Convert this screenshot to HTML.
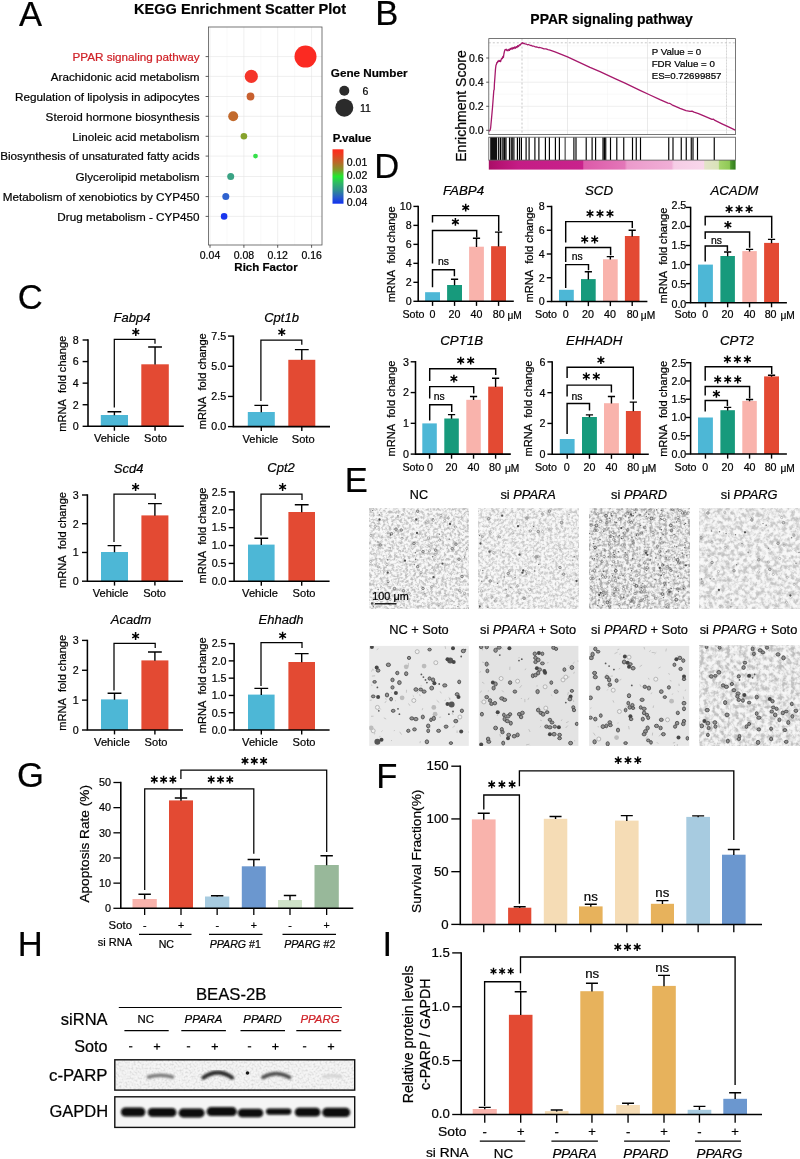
<!DOCTYPE html><html><head><meta charset="utf-8"><title>Figure</title>
<style>html,body{margin:0;padding:0;background:#fff}svg{display:block}text{font-family:"Liberation Sans", sans-serif;stroke-width:.22px}</style></head><body>
<svg width="800" height="1159" viewBox="0 0 800 1159">
<rect width="800" height="1159" fill="#fff"/>
<defs>
<linearGradient id="pv" x1="0" y1="0" x2="0" y2="1"><stop offset="0" stop-color="#ff2a1c"/><stop offset="0.08" stop-color="#f03a20"/><stop offset="0.25" stop-color="#b86a28"/><stop offset="0.38" stop-color="#7f9a2a"/><stop offset="0.5" stop-color="#22e830"/><stop offset="0.62" stop-color="#2fb865"/><stop offset="0.75" stop-color="#2f8f8f"/><stop offset="0.88" stop-color="#2a5cc8"/><stop offset="1" stop-color="#1030f0"/></linearGradient>
<linearGradient id="gsea" x1="0" y1="0" x2="1" y2="0"><stop offset="0" stop-color="#a80f66"/><stop offset="0.04" stop-color="#b51272"/><stop offset="0.12" stop-color="#c41c85"/><stop offset="0.38" stop-color="#c9228c"/><stop offset="0.385" stop-color="#dc5aa9"/><stop offset="0.55" stop-color="#e376b8"/><stop offset="0.56" stop-color="#eb9acb"/><stop offset="0.74" stop-color="#f0aed6"/><stop offset="0.75" stop-color="#f6cde6"/><stop offset="0.87" stop-color="#f8d6ea"/><stop offset="0.875" stop-color="#e3e3c8"/><stop offset="0.93" stop-color="#d9e3b8"/><stop offset="0.935" stop-color="#a4d46a"/><stop offset="0.975" stop-color="#8fc955"/><stop offset="0.98" stop-color="#4d9a2c"/><stop offset="1" stop-color="#2f7a1c"/></linearGradient>
<filter id="t1" x="0" y="0" width="100%" height="100%" color-interpolation-filters="sRGB"><feTurbulence type="fractalNoise" baseFrequency="0.36" numOctaves="3" seed="5" result="n"/><feColorMatrix in="n" type="matrix" values="1 0 0 0 0  1 0 0 0 0  1 0 0 0 0  0 0 0 0 1" result="g"/><feComponentTransfer in="g"><feFuncR type="table" tableValues=".74 .74 .74 .77 .83 .91 .965 .98 .98 .98 .98"/><feFuncG type="table" tableValues=".74 .74 .74 .77 .83 .91 .965 .98 .98 .98 .98"/><feFuncB type="table" tableValues=".74 .74 .74 .77 .83 .91 .965 .98 .98 .98 .98"/></feComponentTransfer></filter>
<filter id="t2" x="0" y="0" width="100%" height="100%" color-interpolation-filters="sRGB"><feTurbulence type="fractalNoise" baseFrequency="0.36" numOctaves="3" seed="8" result="n"/><feColorMatrix in="n" type="matrix" values="1 0 0 0 0  1 0 0 0 0  1 0 0 0 0  0 0 0 0 1" result="g"/><feComponentTransfer in="g"><feFuncR type="table" tableValues=".78 .78 .78 .80 .85 .92 .965 .98 .98 .98 .98"/><feFuncG type="table" tableValues=".78 .78 .78 .80 .85 .92 .965 .98 .98 .98 .98"/><feFuncB type="table" tableValues=".78 .78 .78 .80 .85 .92 .965 .98 .98 .98 .98"/></feComponentTransfer></filter>
<filter id="t3" x="0" y="0" width="100%" height="100%" color-interpolation-filters="sRGB"><feTurbulence type="fractalNoise" baseFrequency="0.34" numOctaves="3" seed="13" result="n"/><feColorMatrix in="n" type="matrix" values="1 0 0 0 0  1 0 0 0 0  1 0 0 0 0  0 0 0 0 1" result="g"/><feComponentTransfer in="g"><feFuncR type="table" tableValues=".64 .64 .65 .69 .78 .88 .95 .97 .97 .97 .97"/><feFuncG type="table" tableValues=".64 .64 .65 .69 .78 .88 .95 .97 .97 .97 .97"/><feFuncB type="table" tableValues=".64 .64 .65 .69 .78 .88 .95 .97 .97 .97 .97"/></feComponentTransfer></filter>
<filter id="t4" x="0" y="0" width="100%" height="100%" color-interpolation-filters="sRGB"><feTurbulence type="fractalNoise" baseFrequency="0.23" numOctaves="3" seed="21" result="n"/><feColorMatrix in="n" type="matrix" values="1 0 0 0 0  1 0 0 0 0  1 0 0 0 0  0 0 0 0 1" result="g"/><feComponentTransfer in="g"><feFuncR type="table" tableValues=".76 .76 .76 .79 .84 .91 .96 .975 .975 .975 .975"/><feFuncG type="table" tableValues=".76 .76 .76 .79 .84 .91 .96 .975 .975 .975 .975"/><feFuncB type="table" tableValues=".76 .76 .76 .79 .84 .91 .96 .975 .975 .975 .975"/></feComponentTransfer></filter>
<filter id="t5" x="0" y="0" width="100%" height="100%" color-interpolation-filters="sRGB"><feTurbulence type="fractalNoise" baseFrequency="0.23" numOctaves="3" seed="33" result="n"/><feColorMatrix in="n" type="matrix" values="1 0 0 0 0  1 0 0 0 0  1 0 0 0 0  0 0 0 0 1" result="g"/><feComponentTransfer in="g"><feFuncR type="table" tableValues=".74 .74 .74 .77 .83 .90 .95 .965 .965 .965 .965"/><feFuncG type="table" tableValues=".74 .74 .74 .77 .83 .90 .95 .965 .965 .965 .965"/><feFuncB type="table" tableValues=".74 .74 .74 .77 .83 .90 .95 .965 .965 .965 .965"/></feComponentTransfer></filter>
<filter id="tb" x="0" y="0" width="100%" height="100%" color-interpolation-filters="sRGB"><feTurbulence type="fractalNoise" baseFrequency="0.05" numOctaves="1" seed="5" result="n"/><feColorMatrix in="n" type="matrix" values="0.06 0 0 0 0.97  0.06 0 0 0 0.97  0.06 0 0 0 0.97  0 0 0 0 1"/></filter>
<filter id="b1" x="-20%" y="-50%" width="140%" height="200%"><feGaussianBlur stdDeviation="1.1"/></filter>
<filter id="b2" x="-20%" y="-50%" width="140%" height="200%"><feGaussianBlur stdDeviation="0.9"/></filter>
<filter id="b4" x="-10%" y="-100%" width="120%" height="300%"><feGaussianBlur stdDeviation="1.6"/></filter>
<filter id="tn" x="0" y="0" width="100%" height="100%" color-interpolation-filters="sRGB"><feTurbulence type="fractalNoise" baseFrequency="0.5" numOctaves="2" seed="7" result="n"/><feColorMatrix in="n" type="matrix" values="0.5 0 0 0 0.7  0.5 0 0 0 0.7  0.5 0 0 0 0.7  0 0 0 0 1"/></filter>
<filter id="b3" x="-50%" y="-50%" width="200%" height="200%"><feGaussianBlur stdDeviation="0.45"/></filter>
</defs>
<g opacity="0.999">
<text x="18.90" y="25.50" font-size="34.6" stroke="#000">A</text>
<text x="375.30" y="25.00" font-size="34.6" stroke="#000">B</text>
<text x="17.70" y="309.20" font-size="34.6" stroke="#000">C</text>
<text x="374.20" y="178.00" font-size="34.6" stroke="#000">D</text>
<text x="344.70" y="491.60" font-size="34.6" stroke="#000">E</text>
<text x="376.20" y="787.75" font-size="34.6" stroke="#000">F</text>
<text x="17.00" y="787.30" font-size="34.6" stroke="#000">G</text>
<text x="17.70" y="955.80" font-size="34.6" stroke="#000">H</text>
<text x="382.40" y="955.90" font-size="34.6" stroke="#000">I</text>
<g id="panelA">
<text x="134.00" y="14.30" font-size="15.0" font-weight="bold" stroke="#000" textLength="212.00" lengthAdjust="spacingAndGlyphs">KEGG Enrichment Scatter Plot</text>
<rect x="208.40" y="27.00" width="113.60" height="218.00" fill="#fff" />
<line x1="210.00" y1="27.00" x2="210.00" y2="245.00" stroke="#e4e4e4" stroke-width="0.6" />
<line x1="243.90" y1="27.00" x2="243.90" y2="245.00" stroke="#e4e4e4" stroke-width="0.6" />
<line x1="277.70" y1="27.00" x2="277.70" y2="245.00" stroke="#e4e4e4" stroke-width="0.6" />
<line x1="311.60" y1="27.00" x2="311.60" y2="245.00" stroke="#e4e4e4" stroke-width="0.6" />
<line x1="227.00" y1="27.00" x2="227.00" y2="245.00" stroke="#eeeeee" stroke-width="0.35" />
<line x1="260.80" y1="27.00" x2="260.80" y2="245.00" stroke="#eeeeee" stroke-width="0.35" />
<line x1="294.70" y1="27.00" x2="294.70" y2="245.00" stroke="#eeeeee" stroke-width="0.35" />
<line x1="208.40" y1="56.60" x2="322.00" y2="56.60" stroke="#e4e4e4" stroke-width="0.6" />
<line x1="208.40" y1="76.40" x2="322.00" y2="76.40" stroke="#e4e4e4" stroke-width="0.6" />
<line x1="208.40" y1="96.50" x2="322.00" y2="96.50" stroke="#e4e4e4" stroke-width="0.6" />
<line x1="208.40" y1="116.30" x2="322.00" y2="116.30" stroke="#e4e4e4" stroke-width="0.6" />
<line x1="208.40" y1="136.30" x2="322.00" y2="136.30" stroke="#e4e4e4" stroke-width="0.6" />
<line x1="208.40" y1="156.10" x2="322.00" y2="156.10" stroke="#e4e4e4" stroke-width="0.6" />
<line x1="208.40" y1="176.50" x2="322.00" y2="176.50" stroke="#e4e4e4" stroke-width="0.6" />
<line x1="208.40" y1="196.60" x2="322.00" y2="196.60" stroke="#e4e4e4" stroke-width="0.6" />
<line x1="208.40" y1="216.40" x2="322.00" y2="216.40" stroke="#e4e4e4" stroke-width="0.6" />
<rect x="208.4" y="27.0" width="113.60" height="218.00" fill="none" stroke="#555" stroke-width="0.8"/>
<text x="199.60" y="60.92" font-size="11.7" text-anchor="end" fill="#cf2127" stroke="#cf2127">PPAR signaling pathway</text>
<line x1="205.60" y1="56.60" x2="208.40" y2="56.60" stroke="#333" stroke-width="0.8" />
<text x="199.60" y="80.72" font-size="11.7" text-anchor="end" stroke="#000">Arachidonic acid metabolism</text>
<line x1="205.60" y1="76.40" x2="208.40" y2="76.40" stroke="#333" stroke-width="0.8" />
<text x="199.60" y="100.82" font-size="11.7" text-anchor="end" stroke="#000">Regulation of lipolysis in adipocytes</text>
<line x1="205.60" y1="96.50" x2="208.40" y2="96.50" stroke="#333" stroke-width="0.8" />
<text x="199.60" y="120.62" font-size="11.7" text-anchor="end" stroke="#000">Steroid hormone biosynthesis</text>
<line x1="205.60" y1="116.30" x2="208.40" y2="116.30" stroke="#333" stroke-width="0.8" />
<text x="199.60" y="140.62" font-size="11.7" text-anchor="end" stroke="#000">Linoleic acid metabolism</text>
<line x1="205.60" y1="136.30" x2="208.40" y2="136.30" stroke="#333" stroke-width="0.8" />
<text x="199.60" y="160.42" font-size="11.7" text-anchor="end" stroke="#000">Biosynthesis of unsaturated fatty acids</text>
<line x1="205.60" y1="156.10" x2="208.40" y2="156.10" stroke="#333" stroke-width="0.8" />
<text x="199.60" y="180.82" font-size="11.7" text-anchor="end" stroke="#000">Glycerolipid metabolism</text>
<line x1="205.60" y1="176.50" x2="208.40" y2="176.50" stroke="#333" stroke-width="0.8" />
<text x="199.60" y="200.92" font-size="11.7" text-anchor="end" stroke="#000">Metabolism of xenobiotics by CYP450</text>
<line x1="205.60" y1="196.60" x2="208.40" y2="196.60" stroke="#333" stroke-width="0.8" />
<text x="199.60" y="220.72" font-size="11.7" text-anchor="end" stroke="#000">Drug metabolism - CYP450</text>
<line x1="205.60" y1="216.40" x2="208.40" y2="216.40" stroke="#333" stroke-width="0.8" />
<line x1="210.00" y1="245.00" x2="210.00" y2="247.80" stroke="#333" stroke-width="0.8" />
<text x="210.00" y="258.81" font-size="10.5" text-anchor="middle" stroke="#000">0.04</text>
<line x1="243.90" y1="245.00" x2="243.90" y2="247.80" stroke="#333" stroke-width="0.8" />
<text x="243.90" y="258.81" font-size="10.5" text-anchor="middle" stroke="#000">0.08</text>
<line x1="277.70" y1="245.00" x2="277.70" y2="247.80" stroke="#333" stroke-width="0.8" />
<text x="277.70" y="258.81" font-size="10.5" text-anchor="middle" stroke="#000">0.12</text>
<line x1="311.60" y1="245.00" x2="311.60" y2="247.80" stroke="#333" stroke-width="0.8" />
<text x="311.60" y="258.81" font-size="10.5" text-anchor="middle" stroke="#000">0.16</text>
<text x="266.00" y="271.30" font-size="11.5" text-anchor="middle" font-weight="bold" stroke="#000">Rich Factor</text>
<circle cx="305.5" cy="56.6" r="11.0" fill="#fb2a22"/>
<circle cx="251.3" cy="76.4" r="6.6" fill="#f5352a"/>
<circle cx="250.5" cy="96.5" r="3.9" fill="#c8602f"/>
<circle cx="233.2" cy="116.3" r="5.0" fill="#c26a2c"/>
<circle cx="243.9" cy="136.3" r="3.3" fill="#86a22c"/>
<circle cx="255.5" cy="156.1" r="2.4" fill="#35e04a"/>
<circle cx="230.7" cy="176.5" r="3.5" fill="#3aa384"/>
<circle cx="225.8" cy="196.6" r="3.5" fill="#2f62cf"/>
<circle cx="224.1" cy="216.4" r="3.3" fill="#1a36ee"/>
<text x="330.80" y="76.80" font-size="11.7" font-weight="bold" stroke="#000">Gene Number</text>
<circle cx="344.3" cy="90.7" r="5" fill="#2b2b2b"/>
<circle cx="344.3" cy="107.7" r="9" fill="#2b2b2b"/>
<text x="362.50" y="94.51" font-size="10.5" stroke="#000">6</text>
<text x="360.00" y="111.51" font-size="10.5" stroke="#000">11</text>
<text x="332.80" y="141.50" font-size="11.4" font-weight="bold" stroke="#000">P.value</text>
<rect x="332.50" y="149.30" width="11.00" height="54.40" fill="url(#pv)" />
<text x="346.80" y="165.81" font-size="10.5" stroke="#000">0.01</text>
<text x="346.80" y="179.31" font-size="10.5" stroke="#000">0.02</text>
<text x="346.80" y="192.71" font-size="10.5" stroke="#000">0.03</text>
<text x="346.80" y="206.01" font-size="10.5" stroke="#000">0.04</text>
</g>
<g id="panelB">
<text x="611.60" y="23.70" font-size="14.7" text-anchor="middle" font-weight="bold" stroke="#000" textLength="162.50" lengthAdjust="spacingAndGlyphs">PPAR signaling pathway</text>
<rect x="488.80" y="38.60" width="246.80" height="96.00" fill="#fff" />
<line x1="488.80" y1="58.00" x2="735.60" y2="58.00" stroke="#e2e2e2" stroke-width="0.6" />
<line x1="488.80" y1="82.20" x2="735.60" y2="82.20" stroke="#e2e2e2" stroke-width="0.6" />
<line x1="488.80" y1="106.30" x2="735.60" y2="106.30" stroke="#e2e2e2" stroke-width="0.6" />
<line x1="488.80" y1="130.30" x2="735.60" y2="130.30" stroke="#e2e2e2" stroke-width="0.6" />
<line x1="488.80" y1="45.90" x2="735.60" y2="45.90" stroke="#ededed" stroke-width="0.35" />
<line x1="488.80" y1="70.10" x2="735.60" y2="70.10" stroke="#ededed" stroke-width="0.35" />
<line x1="488.80" y1="94.20" x2="735.60" y2="94.20" stroke="#ededed" stroke-width="0.35" />
<line x1="488.80" y1="118.30" x2="735.60" y2="118.30" stroke="#ededed" stroke-width="0.35" />
<line x1="567.50" y1="38.60" x2="567.50" y2="134.60" stroke="#dcdcdc" stroke-width="0.6" />
<line x1="647.50" y1="38.60" x2="647.50" y2="134.60" stroke="#dcdcdc" stroke-width="0.6" />
<line x1="726.50" y1="38.60" x2="726.50" y2="134.60" stroke="#dcdcdc" stroke-width="0.6" />
<line x1="528.00" y1="38.60" x2="528.00" y2="134.60" stroke="#ededed" stroke-width="0.35" />
<line x1="607.50" y1="38.60" x2="607.50" y2="134.60" stroke="#ededed" stroke-width="0.35" />
<line x1="687.00" y1="38.60" x2="687.00" y2="134.60" stroke="#ededed" stroke-width="0.35" />
<line x1="488.80" y1="42.80" x2="735.60" y2="42.80" stroke="#b0b0b0" stroke-width="0.7" stroke-dasharray="2 2"/>
<line x1="522.00" y1="38.60" x2="522.00" y2="134.60" stroke="#b0b0b0" stroke-width="0.7" stroke-dasharray="2 2"/>
<line x1="726.50" y1="38.60" x2="726.50" y2="134.60" stroke="#c8c8c8" stroke-width="0.6" stroke-dasharray="1.5 1.5"/>
<path d="M489.2 131.3L490.0 130.4L490.6 128.2L491.0 124.0L491.6 117.5L492.1 112.0L492.5 107.5L493.0 101.0L493.3 97.0L493.8 90.5L494.2 89.5L494.4 84.0L494.9 77.5L495.5 69.0L496.0 65.0L496.3 64.8L496.8 62.6L497.3 62.8L497.8 61.2L498.4 61.6L498.9 60.4L499.4 61.4L500.0 60.6L500.6 61.6L501.2 59.4L501.8 58.2L502.4 58.6L502.9 56.4L503.4 57.4L503.9 54.0L504.5 51.2L505.0 49.6L505.6 49.9L506.2 49.2L506.8 50.6L507.4 50.0L508.0 50.8L508.8 49.4L509.5 50.4L510.2 48.4L510.9 49.2L511.6 48.0L512.3 49.1L513.0 47.5L513.8 48.6L514.6 47.0L515.4 48.2L516.2 46.6L517.0 47.6L517.8 45.6L518.6 46.6L519.4 44.8L520.2 45.2L521.0 43.8L521.8 43.4L522.4 42.8L523.2 43.6L524.0 43.2L525.0 43.9L526.5 44.2L527.5 44.8L528.5 44.5L530.0 45.3L531.5 45.5L532.5 46.1L534.0 46.2L535.0 46.8L537.0 47.0L538.5 47.6L540.0 47.5L542.0 48.1L544.0 48.8L546.0 48.9L548.0 49.6L550.0 50.1L555.0 51.9L560.0 53.9L567.5 56.9L575.0 60.3L590.0 67.4L600.0 71.6L615.0 78.7L625.0 83.2L640.0 90.4L650.0 95.0L660.0 99.7L668.0 103.2L669.5 103.3L672.0 104.8L680.0 108.3L686.0 110.6L690.0 111.4L692.0 111.2L694.0 112.2L698.5 113.6L705.0 116.4L712.0 119.4L713.5 119.2L715.0 120.4L722.0 123.8L728.0 126.7L735.3 130.2" stroke="#a6186b" stroke-width="1.3" fill="none" stroke-linejoin="round"/>
<rect x="488.8" y="38.6" width="246.80" height="96.00" fill="none" stroke="#555" stroke-width="0.8"/>
<text x="483.60" y="61.61" font-size="10.5" text-anchor="end" stroke="#000">0.6</text>
<line x1="486.20" y1="58.00" x2="488.80" y2="58.00" stroke="#333" stroke-width="0.8" />
<text x="483.60" y="85.81" font-size="10.5" text-anchor="end" stroke="#000">0.4</text>
<line x1="486.20" y1="82.20" x2="488.80" y2="82.20" stroke="#333" stroke-width="0.8" />
<text x="483.60" y="109.91" font-size="10.5" text-anchor="end" stroke="#000">0.2</text>
<line x1="486.20" y1="106.30" x2="488.80" y2="106.30" stroke="#333" stroke-width="0.8" />
<text x="483.60" y="133.91" font-size="10.5" text-anchor="end" stroke="#000">0.0</text>
<line x1="486.20" y1="130.30" x2="488.80" y2="130.30" stroke="#333" stroke-width="0.8" />
<text x="466.00" y="106.00" font-size="14" text-anchor="middle" stroke="#000" transform="rotate(-90 466.00 106.00)" textLength="111.50" lengthAdjust="spacingAndGlyphs">Enrichment Score</text>
<text x="651.70" y="54.60" font-size="9.7" stroke="#000">P Value = 0</text>
<text x="651.70" y="66.60" font-size="9.7" stroke="#000">FDR Value = 0</text>
<text x="651.70" y="78.60" font-size="9.7" stroke="#000">ES=0.72699857</text>
<rect x="488.80" y="137.20" width="246.80" height="22.90" fill="#fff" />
<rect x="490.20" y="137.20" width="7.00" height="22.90" fill="#111" />
<path d="M498.65 137.2V160.1M500.40 137.2V160.1M502.15 137.2V160.1M504.60 137.2V160.1M506.00 137.2V160.1M509.50 137.2V160.1M511.25 137.2V160.1M513.90 137.2V160.1M517.40 137.2V160.1M519.50 137.2V160.1M521.40 137.2V160.1M526.10 137.2V160.1M529.10 137.2V160.1M534.90 137.2V160.1M538.90 137.2V160.1M545.40 137.2V160.1M549.40 137.2V160.1M555.40 137.2V160.1M559.40 137.2V160.1M573.90 137.2V160.1M576.00 137.2V160.1M586.20 137.2V160.1M592.10 137.2V160.1M595.60 137.2V160.1M603.00 137.2V160.1M604.40 137.2V160.1M605.75 137.2V160.1M610.50 137.2V160.1M616.80 137.2V160.1M623.75 137.2V160.1M632.50 137.2V160.1M636.25 137.2V160.1M640.50 137.2V160.1M668.75 137.2V160.1M673.00 137.2V160.1M681.25 137.2V160.1M686.25 137.2V160.1M691.25 137.2V160.1M693.00 137.2V160.1M697.50 137.2V160.1M714.25 137.2V160.1" stroke="#000" stroke-width="1.15" fill="none" />
<line x1="565.20" y1="137.20" x2="565.20" y2="160.10" stroke="#777" stroke-width="1.6" />
<line x1="503.40" y1="137.20" x2="503.40" y2="160.10" stroke="#444" stroke-width="1.4" />
<line x1="512.50" y1="137.20" x2="512.50" y2="160.10" stroke="#333" stroke-width="1.2" />
<rect x="488.80" y="160.10" width="246.80" height="9.50" fill="url(#gsea)" />
<rect x="488.8" y="137.2" width="246.80" height="22.9" fill="none" stroke="#555" stroke-width="0.8"/>
</g>
<g id="panelD">
<text x="463.50" y="194.98" font-size="13.3" text-anchor="middle" font-style="italic" stroke="#000">FABP4</text>
<rect x="425.10" y="292.20" width="14.90" height="9.10" fill="#4db7d6" />
<rect x="447.10" y="285.00" width="14.90" height="16.30" fill="#179a7c" />
<rect x="469.10" y="246.70" width="14.80" height="54.60" fill="#f9b3ac" />
<rect x="491.10" y="246.20" width="14.90" height="55.10" fill="#e34a33" />
<path d="M454.55 285.30V279.20M450.95 279.20H458.15" stroke="#000" stroke-width="1.4" fill="none" />
<path d="M476.50 247.00V238.20M472.90 238.20H480.10" stroke="#000" stroke-width="1.4" fill="none" />
<path d="M498.55 246.50V232.10M494.95 232.10H502.15" stroke="#000" stroke-width="1.4" fill="none" />
<path d="M418.20 205.70V301.30H513.80" stroke="#000" stroke-width="1.55" fill="none" stroke-linejoin="miter"/>
<line x1="413.40" y1="301.30" x2="418.20" y2="301.30" stroke="#000" stroke-width="1.4" />
<text x="411.60" y="305.18" font-size="10.7" text-anchor="end" stroke="#000">0</text>
<line x1="413.40" y1="282.32" x2="418.20" y2="282.32" stroke="#000" stroke-width="1.4" />
<text x="411.60" y="286.20" font-size="10.7" text-anchor="end" stroke="#000">2</text>
<line x1="413.40" y1="263.34" x2="418.20" y2="263.34" stroke="#000" stroke-width="1.4" />
<text x="411.60" y="267.22" font-size="10.7" text-anchor="end" stroke="#000">4</text>
<line x1="413.40" y1="244.36" x2="418.20" y2="244.36" stroke="#000" stroke-width="1.4" />
<text x="411.60" y="248.24" font-size="10.7" text-anchor="end" stroke="#000">6</text>
<line x1="413.40" y1="225.38" x2="418.20" y2="225.38" stroke="#000" stroke-width="1.4" />
<text x="411.60" y="229.26" font-size="10.7" text-anchor="end" stroke="#000">8</text>
<line x1="413.40" y1="206.40" x2="418.20" y2="206.40" stroke="#000" stroke-width="1.4" />
<text x="411.60" y="210.28" font-size="10.7" text-anchor="end" stroke="#000">10</text>
<line x1="432.55" y1="301.30" x2="432.55" y2="305.90" stroke="#000" stroke-width="1.4" />
<line x1="454.55" y1="301.30" x2="454.55" y2="305.90" stroke="#000" stroke-width="1.4" />
<line x1="476.50" y1="301.30" x2="476.50" y2="305.90" stroke="#000" stroke-width="1.4" />
<line x1="498.55" y1="301.30" x2="498.55" y2="305.90" stroke="#000" stroke-width="1.4" />
<path d="M432.50 287.20V269.70H454.40V276.20" stroke="#000" stroke-width="1.45" fill="none" stroke-linejoin="miter"/>
<path d="M432.50 263.40V230.50H476.70V237.40" stroke="#000" stroke-width="1.45" fill="none" stroke-linejoin="miter"/>
<path d="M432.50 222.50V215.60H498.70V231.30" stroke="#000" stroke-width="1.45" fill="none" stroke-linejoin="miter"/>
<text x="443.40" y="265.18" font-size="10.4" text-anchor="middle" stroke="#000">ns</text>
<path d="M455.40 217.90L455.40 225.70M452.02 219.85L458.78 223.75M458.78 219.85L452.02 223.75" stroke="#000" stroke-width="1.5" fill="none" />
<path d="M465.70 203.80L465.70 211.60M462.32 205.75L469.08 209.65M469.08 205.75L462.32 209.65" stroke="#000" stroke-width="1.5" fill="none" />
<text x="395.40" y="254.35" font-size="10.0" text-anchor="middle" stroke="#000" transform="rotate(-90 395.40 254.35)" textLength="96.00" lengthAdjust="spacingAndGlyphs">mRNA  fold change</text>
<text x="402.40" y="318.28" font-size="10.7" stroke="#000">Soto</text>
<text x="432.50" y="318.28" font-size="10.7" text-anchor="middle" stroke="#000">0</text>
<text x="454.50" y="318.28" font-size="10.7" text-anchor="middle" stroke="#000">20</text>
<text x="476.50" y="318.28" font-size="10.7" text-anchor="middle" stroke="#000">40</text>
<text x="498.80" y="318.28" font-size="10.7" text-anchor="middle" stroke="#000">80</text>
<text x="507.40" y="319.11" font-size="10.2" stroke="#000">μM</text>
<text x="599.00" y="194.98" font-size="13.3" text-anchor="middle" font-style="italic" stroke="#000">SCD</text>
<rect x="559.00" y="289.80" width="14.80" height="11.70" fill="#4db7d6" />
<rect x="581.00" y="279.10" width="14.70" height="22.40" fill="#179a7c" />
<rect x="603.00" y="259.30" width="14.70" height="42.20" fill="#f9b3ac" />
<rect x="624.90" y="236.00" width="14.60" height="65.50" fill="#e34a33" />
<path d="M588.35 279.50V271.70M584.75 271.70H591.95" stroke="#000" stroke-width="1.4" fill="none" />
<path d="M610.35 259.60V256.60M606.75 256.60H613.95" stroke="#000" stroke-width="1.4" fill="none" />
<path d="M632.20 236.40V230.30M628.60 230.30H635.80" stroke="#000" stroke-width="1.4" fill="none" />
<path d="M551.60 205.80V301.50H647.40" stroke="#000" stroke-width="1.55" fill="none" stroke-linejoin="miter"/>
<line x1="546.80" y1="301.50" x2="551.60" y2="301.50" stroke="#000" stroke-width="1.4" />
<text x="544.60" y="305.38" font-size="10.7" text-anchor="end" stroke="#000">0</text>
<line x1="546.80" y1="277.75" x2="551.60" y2="277.75" stroke="#000" stroke-width="1.4" />
<text x="544.60" y="281.63" font-size="10.7" text-anchor="end" stroke="#000">2</text>
<line x1="546.80" y1="254.00" x2="551.60" y2="254.00" stroke="#000" stroke-width="1.4" />
<text x="544.60" y="257.88" font-size="10.7" text-anchor="end" stroke="#000">4</text>
<line x1="546.80" y1="230.25" x2="551.60" y2="230.25" stroke="#000" stroke-width="1.4" />
<text x="544.60" y="234.13" font-size="10.7" text-anchor="end" stroke="#000">6</text>
<line x1="546.80" y1="206.50" x2="551.60" y2="206.50" stroke="#000" stroke-width="1.4" />
<text x="544.60" y="210.38" font-size="10.7" text-anchor="end" stroke="#000">8</text>
<line x1="566.40" y1="301.50" x2="566.40" y2="306.10" stroke="#000" stroke-width="1.4" />
<line x1="588.35" y1="301.50" x2="588.35" y2="306.10" stroke="#000" stroke-width="1.4" />
<line x1="610.35" y1="301.50" x2="610.35" y2="306.10" stroke="#000" stroke-width="1.4" />
<line x1="632.20" y1="301.50" x2="632.20" y2="306.10" stroke="#000" stroke-width="1.4" />
<path d="M565.70 288.00V264.60H588.50V270.20" stroke="#000" stroke-width="1.45" fill="none" stroke-linejoin="miter"/>
<path d="M565.70 261.90V247.50H610.60V255.20" stroke="#000" stroke-width="1.45" fill="none" stroke-linejoin="miter"/>
<path d="M565.70 242.60V221.60H632.30V228.00" stroke="#000" stroke-width="1.45" fill="none" stroke-linejoin="miter"/>
<text x="577.30" y="260.18" font-size="10.4" text-anchor="middle" stroke="#000">ns</text>
<path d="M584.70 235.60L584.70 243.40M581.32 237.55L588.08 241.45M588.08 237.55L581.32 241.45" stroke="#000" stroke-width="1.5" fill="none" />
<path d="M594.70 235.60L594.70 243.40M591.32 237.55L598.08 241.45M598.08 237.55L591.32 241.45" stroke="#000" stroke-width="1.5" fill="none" />
<path d="M590.00 209.70L590.00 217.50M586.62 211.65L593.38 215.55M593.38 211.65L586.62 215.55" stroke="#000" stroke-width="1.5" fill="none" />
<path d="M600.00 209.70L600.00 217.50M596.62 211.65L603.38 215.55M603.38 211.65L596.62 215.55" stroke="#000" stroke-width="1.5" fill="none" />
<path d="M610.00 209.70L610.00 217.50M606.62 211.65L613.38 215.55M613.38 211.65L606.62 215.55" stroke="#000" stroke-width="1.5" fill="none" />
<text x="532.50" y="254.50" font-size="10.0" text-anchor="middle" stroke="#000" transform="rotate(-90 532.50 254.50)" textLength="96.00" lengthAdjust="spacingAndGlyphs">mRNA  fold change</text>
<text x="535.00" y="318.28" font-size="10.7" stroke="#000">Soto</text>
<text x="565.70" y="318.28" font-size="10.7" text-anchor="middle" stroke="#000">0</text>
<text x="588.00" y="318.28" font-size="10.7" text-anchor="middle" stroke="#000">20</text>
<text x="610.00" y="318.28" font-size="10.7" text-anchor="middle" stroke="#000">40</text>
<text x="632.60" y="318.28" font-size="10.7" text-anchor="middle" stroke="#000">80</text>
<text x="640.80" y="319.11" font-size="10.2" stroke="#000">μM</text>
<text x="734.40" y="194.98" font-size="13.3" text-anchor="middle" font-style="italic" stroke="#000">ACADM</text>
<rect x="698.00" y="264.60" width="14.90" height="38.10" fill="#4db7d6" />
<rect x="720.40" y="256.00" width="14.50" height="46.70" fill="#179a7c" />
<rect x="742.30" y="251.10" width="14.50" height="51.60" fill="#f9b3ac" />
<rect x="764.10" y="242.90" width="14.90" height="59.80" fill="#e34a33" />
<path d="M727.65 256.30V252.00M724.05 252.00H731.25" stroke="#000" stroke-width="1.4" fill="none" />
<path d="M749.55 251.40V249.40M745.95 249.40H753.15" stroke="#000" stroke-width="1.4" fill="none" />
<path d="M771.55 243.20V239.40M767.95 239.40H775.15" stroke="#000" stroke-width="1.4" fill="none" />
<path d="M690.60 206.70V302.70H786.90" stroke="#000" stroke-width="1.55" fill="none" stroke-linejoin="miter"/>
<line x1="685.80" y1="302.70" x2="690.60" y2="302.70" stroke="#000" stroke-width="1.4" />
<text x="686.30" y="307.98" font-size="10.7" text-anchor="end" stroke="#000">0.0</text>
<line x1="685.80" y1="283.64" x2="690.60" y2="283.64" stroke="#000" stroke-width="1.4" />
<text x="686.30" y="288.24" font-size="10.7" text-anchor="end" stroke="#000">0.5</text>
<line x1="685.80" y1="264.58" x2="690.60" y2="264.58" stroke="#000" stroke-width="1.4" />
<text x="686.30" y="268.50" font-size="10.7" text-anchor="end" stroke="#000">1.0</text>
<line x1="685.80" y1="245.52" x2="690.60" y2="245.52" stroke="#000" stroke-width="1.4" />
<text x="686.30" y="248.76" font-size="10.7" text-anchor="end" stroke="#000">1.5</text>
<line x1="685.80" y1="226.46" x2="690.60" y2="226.46" stroke="#000" stroke-width="1.4" />
<text x="686.30" y="229.02" font-size="10.7" text-anchor="end" stroke="#000">2.0</text>
<line x1="685.80" y1="207.40" x2="690.60" y2="207.40" stroke="#000" stroke-width="1.4" />
<text x="686.30" y="209.28" font-size="10.7" text-anchor="end" stroke="#000">2.5</text>
<line x1="705.45" y1="302.70" x2="705.45" y2="307.30" stroke="#000" stroke-width="1.4" />
<line x1="727.65" y1="302.70" x2="727.65" y2="307.30" stroke="#000" stroke-width="1.4" />
<line x1="749.55" y1="302.70" x2="749.55" y2="307.30" stroke="#000" stroke-width="1.4" />
<line x1="771.55" y1="302.70" x2="771.55" y2="307.30" stroke="#000" stroke-width="1.4" />
<path d="M705.20 261.60V245.90H727.40V251.00" stroke="#000" stroke-width="1.45" fill="none" stroke-linejoin="miter"/>
<path d="M705.20 238.90V231.90H749.60V247.80" stroke="#000" stroke-width="1.45" fill="none" stroke-linejoin="miter"/>
<path d="M705.20 225.40V216.50H771.70V238.00" stroke="#000" stroke-width="1.45" fill="none" stroke-linejoin="miter"/>
<text x="716.40" y="243.58" font-size="10.4" text-anchor="middle" stroke="#000">ns</text>
<path d="M727.90 221.00L727.90 228.80M724.52 222.95L731.28 226.85M731.28 222.95L724.52 226.85" stroke="#000" stroke-width="1.5" fill="none" />
<path d="M729.10 205.20L729.10 213.00M725.72 207.15L732.48 211.05M732.48 207.15L725.72 211.05" stroke="#000" stroke-width="1.5" fill="none" />
<path d="M739.10 205.20L739.10 213.00M735.72 207.15L742.48 211.05M742.48 207.15L735.72 211.05" stroke="#000" stroke-width="1.5" fill="none" />
<path d="M749.10 205.20L749.10 213.00M745.72 207.15L752.48 211.05M752.48 207.15L745.72 211.05" stroke="#000" stroke-width="1.5" fill="none" />
<text x="667.30" y="255.55" font-size="10.0" text-anchor="middle" stroke="#000" transform="rotate(-90 667.30 255.55)" textLength="96.00" lengthAdjust="spacingAndGlyphs">mRNA  fold change</text>
<text x="674.50" y="318.28" font-size="10.7" stroke="#000">Soto</text>
<text x="705.20" y="318.28" font-size="10.7" text-anchor="middle" stroke="#000">0</text>
<text x="727.40" y="318.28" font-size="10.7" text-anchor="middle" stroke="#000">20</text>
<text x="749.60" y="318.28" font-size="10.7" text-anchor="middle" stroke="#000">40</text>
<text x="770.60" y="318.28" font-size="10.7" text-anchor="middle" stroke="#000">80</text>
<text x="780.40" y="319.11" font-size="10.2" stroke="#000">μM</text>
<text x="461.60" y="345.18" font-size="13.3" text-anchor="middle" font-style="italic" stroke="#000">CPT1B</text>
<rect x="422.30" y="423.40" width="14.50" height="30.70" fill="#4db7d6" />
<rect x="444.30" y="418.50" width="14.50" height="35.60" fill="#179a7c" />
<rect x="466.30" y="399.80" width="14.50" height="54.30" fill="#f9b3ac" />
<rect x="488.20" y="386.60" width="14.80" height="67.50" fill="#e34a33" />
<path d="M451.55 418.80V414.60M447.95 414.60H455.15" stroke="#000" stroke-width="1.4" fill="none" />
<path d="M473.55 400.10V396.50M469.95 396.50H477.15" stroke="#000" stroke-width="1.4" fill="none" />
<path d="M495.60 386.90V378.30M492.00 378.30H499.20" stroke="#000" stroke-width="1.4" fill="none" />
<path d="M415.50 361.10V454.10H510.80" stroke="#000" stroke-width="1.55" fill="none" stroke-linejoin="miter"/>
<line x1="410.70" y1="454.10" x2="415.50" y2="454.10" stroke="#000" stroke-width="1.4" />
<text x="409.00" y="457.98" font-size="10.7" text-anchor="end" stroke="#000">0</text>
<line x1="410.70" y1="423.33" x2="415.50" y2="423.33" stroke="#000" stroke-width="1.4" />
<text x="409.00" y="427.21" font-size="10.7" text-anchor="end" stroke="#000">1</text>
<line x1="410.70" y1="392.57" x2="415.50" y2="392.57" stroke="#000" stroke-width="1.4" />
<text x="409.00" y="396.45" font-size="10.7" text-anchor="end" stroke="#000">2</text>
<line x1="410.70" y1="361.80" x2="415.50" y2="361.80" stroke="#000" stroke-width="1.4" />
<text x="409.00" y="365.68" font-size="10.7" text-anchor="end" stroke="#000">3</text>
<line x1="429.55" y1="454.10" x2="429.55" y2="458.70" stroke="#000" stroke-width="1.4" />
<line x1="451.55" y1="454.10" x2="451.55" y2="458.70" stroke="#000" stroke-width="1.4" />
<line x1="473.55" y1="454.10" x2="473.55" y2="458.70" stroke="#000" stroke-width="1.4" />
<line x1="495.60" y1="454.10" x2="495.60" y2="458.70" stroke="#000" stroke-width="1.4" />
<path d="M429.70 420.40V404.70H451.70V412.10" stroke="#000" stroke-width="1.45" fill="none" stroke-linejoin="miter"/>
<path d="M429.70 398.40V386.60H473.70V393.50" stroke="#000" stroke-width="1.45" fill="none" stroke-linejoin="miter"/>
<path d="M429.70 381.00V368.70H495.70V375.00" stroke="#000" stroke-width="1.45" fill="none" stroke-linejoin="miter"/>
<text x="439.30" y="399.98" font-size="10.4" text-anchor="middle" stroke="#000">ns</text>
<path d="M453.90 374.70L453.90 382.50M450.52 376.65L457.28 380.55M457.28 376.65L450.52 380.55" stroke="#000" stroke-width="1.5" fill="none" />
<path d="M460.70 356.80L460.70 364.60M457.32 358.75L464.08 362.65M464.08 358.75L457.32 362.65" stroke="#000" stroke-width="1.5" fill="none" />
<path d="M470.70 356.80L470.70 364.60M467.32 358.75L474.08 362.65M474.08 358.75L467.32 362.65" stroke="#000" stroke-width="1.5" fill="none" />
<text x="395.40" y="408.45" font-size="10.0" text-anchor="middle" stroke="#000" transform="rotate(-90 395.40 408.45)" textLength="96.00" lengthAdjust="spacingAndGlyphs">mRNA  fold change</text>
<text x="402.40" y="471.28" font-size="10.7" stroke="#000">Soto</text>
<text x="430.00" y="471.28" font-size="10.7" text-anchor="middle" stroke="#000">0</text>
<text x="451.40" y="471.28" font-size="10.7" text-anchor="middle" stroke="#000">20</text>
<text x="473.40" y="471.28" font-size="10.7" text-anchor="middle" stroke="#000">40</text>
<text x="495.00" y="471.28" font-size="10.7" text-anchor="middle" stroke="#000">80</text>
<text x="505.00" y="472.11" font-size="10.2" stroke="#000">μM</text>
<text x="594.20" y="345.38" font-size="13.3" text-anchor="middle" font-style="italic" stroke="#000">EHHADH</text>
<rect x="559.80" y="439.00" width="14.80" height="15.20" fill="#4db7d6" />
<rect x="582.00" y="417.00" width="14.90" height="37.20" fill="#179a7c" />
<rect x="604.00" y="403.20" width="14.90" height="51.00" fill="#f9b3ac" />
<rect x="625.90" y="411.00" width="14.90" height="43.20" fill="#e34a33" />
<path d="M589.45 417.30V414.90M585.85 414.90H593.05" stroke="#000" stroke-width="1.4" fill="none" />
<path d="M611.45 403.50V396.50M607.85 396.50H615.05" stroke="#000" stroke-width="1.4" fill="none" />
<path d="M633.35 411.30V402.10M629.75 402.10H636.95" stroke="#000" stroke-width="1.4" fill="none" />
<path d="M552.20 361.20V454.20H648.80" stroke="#000" stroke-width="1.55" fill="none" stroke-linejoin="miter"/>
<line x1="547.40" y1="454.20" x2="552.20" y2="454.20" stroke="#000" stroke-width="1.4" />
<text x="545.50" y="458.08" font-size="10.7" text-anchor="end" stroke="#000">0</text>
<line x1="547.40" y1="423.43" x2="552.20" y2="423.43" stroke="#000" stroke-width="1.4" />
<text x="545.50" y="427.31" font-size="10.7" text-anchor="end" stroke="#000">2</text>
<line x1="547.40" y1="392.67" x2="552.20" y2="392.67" stroke="#000" stroke-width="1.4" />
<text x="545.50" y="396.55" font-size="10.7" text-anchor="end" stroke="#000">4</text>
<line x1="547.40" y1="361.90" x2="552.20" y2="361.90" stroke="#000" stroke-width="1.4" />
<text x="545.50" y="365.78" font-size="10.7" text-anchor="end" stroke="#000">6</text>
<line x1="567.20" y1="454.20" x2="567.20" y2="458.80" stroke="#000" stroke-width="1.4" />
<line x1="589.45" y1="454.20" x2="589.45" y2="458.80" stroke="#000" stroke-width="1.4" />
<line x1="611.45" y1="454.20" x2="611.45" y2="458.80" stroke="#000" stroke-width="1.4" />
<line x1="633.35" y1="454.20" x2="633.35" y2="458.80" stroke="#000" stroke-width="1.4" />
<path d="M567.10 434.10V403.50H589.50V410.50" stroke="#000" stroke-width="1.45" fill="none" stroke-linejoin="miter"/>
<path d="M567.10 396.50V385.10H611.40V392.50" stroke="#000" stroke-width="1.45" fill="none" stroke-linejoin="miter"/>
<path d="M567.10 378.10V367.30H633.30V399.60" stroke="#000" stroke-width="1.45" fill="none" stroke-linejoin="miter"/>
<text x="576.90" y="399.98" font-size="10.4" text-anchor="middle" stroke="#000">ns</text>
<path d="M586.30 372.50L586.30 380.30M582.92 374.45L589.68 378.35M589.68 374.45L582.92 378.35" stroke="#000" stroke-width="1.5" fill="none" />
<path d="M596.30 372.50L596.30 380.30M592.92 374.45L599.68 378.35M599.68 374.45L592.92 378.35" stroke="#000" stroke-width="1.5" fill="none" />
<path d="M600.90 356.20L600.90 364.00M597.52 358.15L604.28 362.05M604.28 358.15L597.52 362.05" stroke="#000" stroke-width="1.5" fill="none" />
<text x="532.00" y="408.55" font-size="10.0" text-anchor="middle" stroke="#000" transform="rotate(-90 532.00 408.55)" textLength="96.00" lengthAdjust="spacingAndGlyphs">mRNA  fold change</text>
<text x="534.90" y="471.28" font-size="10.7" stroke="#000">Soto</text>
<text x="566.80" y="471.28" font-size="10.7" text-anchor="middle" stroke="#000">0</text>
<text x="589.50" y="471.28" font-size="10.7" text-anchor="middle" stroke="#000">20</text>
<text x="611.40" y="471.28" font-size="10.7" text-anchor="middle" stroke="#000">40</text>
<text x="633.20" y="471.28" font-size="10.7" text-anchor="middle" stroke="#000">80</text>
<text x="642.00" y="472.11" font-size="10.2" stroke="#000">μM</text>
<text x="737.00" y="345.08" font-size="13.3" text-anchor="middle" font-style="italic" stroke="#000">CPT2</text>
<rect x="698.00" y="417.50" width="14.90" height="36.50" fill="#4db7d6" />
<rect x="720.40" y="410.20" width="14.50" height="43.80" fill="#179a7c" />
<rect x="742.30" y="400.90" width="14.50" height="53.10" fill="#f9b3ac" />
<rect x="764.10" y="376.40" width="14.90" height="77.60" fill="#e34a33" />
<path d="M727.65 410.50V407.40M724.05 407.40H731.25" stroke="#000" stroke-width="1.4" fill="none" />
<path d="M749.55 401.20V399.50M745.95 399.50H753.15" stroke="#000" stroke-width="1.4" fill="none" />
<path d="M771.55 376.70V375.30M767.95 375.30H775.15" stroke="#000" stroke-width="1.4" fill="none" />
<path d="M690.60 362.00V454.00H786.90" stroke="#000" stroke-width="1.55" fill="none" stroke-linejoin="miter"/>
<line x1="685.80" y1="454.00" x2="690.60" y2="454.00" stroke="#000" stroke-width="1.4" />
<text x="686.30" y="457.88" font-size="10.7" text-anchor="end" stroke="#000">0.0</text>
<line x1="685.80" y1="435.74" x2="690.60" y2="435.74" stroke="#000" stroke-width="1.4" />
<text x="686.30" y="439.62" font-size="10.7" text-anchor="end" stroke="#000">0.5</text>
<line x1="685.80" y1="417.48" x2="690.60" y2="417.48" stroke="#000" stroke-width="1.4" />
<text x="686.30" y="421.36" font-size="10.7" text-anchor="end" stroke="#000">1.0</text>
<line x1="685.80" y1="399.22" x2="690.60" y2="399.22" stroke="#000" stroke-width="1.4" />
<text x="686.30" y="403.10" font-size="10.7" text-anchor="end" stroke="#000">1.5</text>
<line x1="685.80" y1="380.96" x2="690.60" y2="380.96" stroke="#000" stroke-width="1.4" />
<text x="686.30" y="384.84" font-size="10.7" text-anchor="end" stroke="#000">2.0</text>
<line x1="685.80" y1="362.70" x2="690.60" y2="362.70" stroke="#000" stroke-width="1.4" />
<text x="686.30" y="366.58" font-size="10.7" text-anchor="end" stroke="#000">2.5</text>
<line x1="705.45" y1="454.00" x2="705.45" y2="458.60" stroke="#000" stroke-width="1.4" />
<line x1="727.65" y1="454.00" x2="727.65" y2="458.60" stroke="#000" stroke-width="1.4" />
<line x1="749.55" y1="454.00" x2="749.55" y2="458.60" stroke="#000" stroke-width="1.4" />
<line x1="771.55" y1="454.00" x2="771.55" y2="458.60" stroke="#000" stroke-width="1.4" />
<path d="M705.20 411.40V400.40H727.40V406.00" stroke="#000" stroke-width="1.45" fill="none" stroke-linejoin="miter"/>
<path d="M705.20 395.60V386.50H749.60V398.50" stroke="#000" stroke-width="1.45" fill="none" stroke-linejoin="miter"/>
<path d="M705.20 380.80V366.80H771.70V374.00" stroke="#000" stroke-width="1.45" fill="none" stroke-linejoin="miter"/>
<path d="M716.40 390.00L716.40 397.80M713.02 391.95L719.78 395.85M719.78 391.95L713.02 395.85" stroke="#000" stroke-width="1.5" fill="none" />
<path d="M717.70 375.60L717.70 383.40M714.32 377.55L721.08 381.45M721.08 377.55L714.32 381.45" stroke="#000" stroke-width="1.5" fill="none" />
<path d="M727.70 375.60L727.70 383.40M724.32 377.55L731.08 381.45M731.08 377.55L724.32 381.45" stroke="#000" stroke-width="1.5" fill="none" />
<path d="M737.70 375.60L737.70 383.40M734.32 377.55L741.08 381.45M741.08 377.55L734.32 381.45" stroke="#000" stroke-width="1.5" fill="none" />
<path d="M727.40 355.50L727.40 363.30M724.02 357.45L730.78 361.35M730.78 357.45L724.02 361.35" stroke="#000" stroke-width="1.5" fill="none" />
<path d="M737.40 355.50L737.40 363.30M734.02 357.45L740.78 361.35M740.78 357.45L734.02 361.35" stroke="#000" stroke-width="1.5" fill="none" />
<path d="M747.40 355.50L747.40 363.30M744.02 357.45L750.78 361.35M750.78 357.45L744.02 361.35" stroke="#000" stroke-width="1.5" fill="none" />
<text x="667.30" y="408.85" font-size="10.0" text-anchor="middle" stroke="#000" transform="rotate(-90 667.30 408.85)" textLength="96.00" lengthAdjust="spacingAndGlyphs">mRNA  fold change</text>
<text x="674.50" y="471.28" font-size="10.7" stroke="#000">Soto</text>
<text x="705.20" y="471.28" font-size="10.7" text-anchor="middle" stroke="#000">0</text>
<text x="727.40" y="471.28" font-size="10.7" text-anchor="middle" stroke="#000">20</text>
<text x="749.60" y="471.28" font-size="10.7" text-anchor="middle" stroke="#000">40</text>
<text x="770.60" y="471.28" font-size="10.7" text-anchor="middle" stroke="#000">80</text>
<text x="780.40" y="472.11" font-size="10.2" stroke="#000">μM</text>
</g>
<g id="panelC">
<text x="132.00" y="321.97" font-size="13.0" text-anchor="middle" font-style="italic" stroke="#000">Fabp4</text>
<rect x="100.80" y="415.00" width="27.20" height="11.30" fill="#4db7d6" />
<rect x="141.30" y="364.30" width="27.50" height="62.00" fill="#e34a33" />
<path d="M114.40 415.30V411.80M107.50 411.80H121.30" stroke="#000" stroke-width="1.4" fill="none" />
<path d="M155.05 364.60V347.00M148.15 347.00H161.95" stroke="#000" stroke-width="1.4" fill="none" />
<path d="M88.00 339.30V426.30H183.80" stroke="#000" stroke-width="1.55" fill="none" />
<line x1="82.60" y1="426.30" x2="88.00" y2="426.30" stroke="#000" stroke-width="1.4" />
<text x="78.80" y="430.08" font-size="10.7" text-anchor="end" stroke="#000">0</text>
<line x1="82.60" y1="404.73" x2="88.00" y2="404.73" stroke="#000" stroke-width="1.4" />
<text x="78.80" y="408.51" font-size="10.7" text-anchor="end" stroke="#000">2</text>
<line x1="82.60" y1="383.15" x2="88.00" y2="383.15" stroke="#000" stroke-width="1.4" />
<text x="78.80" y="386.93" font-size="10.7" text-anchor="end" stroke="#000">4</text>
<line x1="82.60" y1="361.57" x2="88.00" y2="361.57" stroke="#000" stroke-width="1.4" />
<text x="78.80" y="365.36" font-size="10.7" text-anchor="end" stroke="#000">6</text>
<line x1="82.60" y1="340.00" x2="88.00" y2="340.00" stroke="#000" stroke-width="1.4" />
<text x="78.80" y="343.78" font-size="10.7" text-anchor="end" stroke="#000">8</text>
<line x1="114.40" y1="426.30" x2="114.40" y2="430.70" stroke="#000" stroke-width="1.4" />
<line x1="155.05" y1="426.30" x2="155.05" y2="430.70" stroke="#000" stroke-width="1.4" />
<path d="M114.30 407.50V339.30H155.00V343.80" stroke="#000" stroke-width="1.25" fill="none" stroke-linejoin="miter"/>
<path d="M135.80 328.10L135.80 335.90M132.42 330.05L139.18 333.95M139.18 330.05L132.42 333.95" stroke="#000" stroke-width="1.5" fill="none" />
<text x="66.00" y="383.80" font-size="10.0" text-anchor="middle" stroke="#000" transform="rotate(-90 66.00 383.80)" textLength="96.00" lengthAdjust="spacingAndGlyphs">mRNA  fold change</text>
<text x="111.80" y="442.12" font-size="11.1" text-anchor="middle" stroke="#000">Vehicle</text>
<text x="155.50" y="442.12" font-size="11.1" text-anchor="middle" stroke="#000">Soto</text>
<text x="281.60" y="321.97" font-size="13.0" text-anchor="middle" font-style="italic" stroke="#000">Cpt1b</text>
<rect x="247.80" y="412.00" width="27.00" height="14.60" fill="#4db7d6" />
<rect x="288.30" y="359.80" width="27.00" height="66.80" fill="#e34a33" />
<path d="M261.30 412.30V405.40M254.40 405.40H268.20" stroke="#000" stroke-width="1.4" fill="none" />
<path d="M301.80 360.10V349.60M294.90 349.60H308.70" stroke="#000" stroke-width="1.4" fill="none" />
<path d="M233.40 335.40V426.60H330.00" stroke="#000" stroke-width="1.55" fill="none" />
<line x1="228.00" y1="426.60" x2="233.40" y2="426.60" stroke="#000" stroke-width="1.4" />
<text x="226.20" y="430.38" font-size="10.7" text-anchor="end" stroke="#000">0.0</text>
<line x1="228.00" y1="396.43" x2="233.40" y2="396.43" stroke="#000" stroke-width="1.4" />
<text x="226.20" y="400.21" font-size="10.7" text-anchor="end" stroke="#000">2.5</text>
<line x1="228.00" y1="366.27" x2="233.40" y2="366.27" stroke="#000" stroke-width="1.4" />
<text x="226.20" y="370.05" font-size="10.7" text-anchor="end" stroke="#000">5.0</text>
<line x1="228.00" y1="336.10" x2="233.40" y2="336.10" stroke="#000" stroke-width="1.4" />
<text x="226.20" y="339.88" font-size="10.7" text-anchor="end" stroke="#000">7.5</text>
<line x1="261.30" y1="426.60" x2="261.30" y2="431.00" stroke="#000" stroke-width="1.4" />
<line x1="301.80" y1="426.60" x2="301.80" y2="431.00" stroke="#000" stroke-width="1.4" />
<path d="M260.90 401.00V340.00H301.80V344.70" stroke="#000" stroke-width="1.25" fill="none" stroke-linejoin="miter"/>
<path d="M281.80 328.20L281.80 336.00M278.42 330.15L285.18 334.05M285.18 330.15L278.42 334.05" stroke="#000" stroke-width="1.5" fill="none" />
<text x="206.20" y="381.20" font-size="10.0" text-anchor="middle" stroke="#000" transform="rotate(-90 206.20 381.20)" textLength="96.00" lengthAdjust="spacingAndGlyphs">mRNA  fold change</text>
<text x="260.40" y="442.82" font-size="11.1" text-anchor="middle" stroke="#000">Vehicle</text>
<text x="303.20" y="442.82" font-size="11.1" text-anchor="middle" stroke="#000">Soto</text>
<text x="128.60" y="473.47" font-size="13.0" text-anchor="middle" font-style="italic" stroke="#000">Scd4</text>
<rect x="101.00" y="552.00" width="27.00" height="29.20" fill="#4db7d6" />
<rect x="141.40" y="515.40" width="27.00" height="65.80" fill="#e34a33" />
<path d="M114.50 552.30V545.60M107.60 545.60H121.40" stroke="#000" stroke-width="1.4" fill="none" />
<path d="M154.90 515.70V503.60M148.00 503.60H161.80" stroke="#000" stroke-width="1.4" fill="none" />
<path d="M87.40 494.30V581.20H183.00" stroke="#000" stroke-width="1.55" fill="none" />
<line x1="82.00" y1="581.20" x2="87.40" y2="581.20" stroke="#000" stroke-width="1.4" />
<text x="78.60" y="584.98" font-size="10.7" text-anchor="end" stroke="#000">0</text>
<line x1="82.00" y1="552.47" x2="87.40" y2="552.47" stroke="#000" stroke-width="1.4" />
<text x="78.60" y="556.25" font-size="10.7" text-anchor="end" stroke="#000">1</text>
<line x1="82.00" y1="523.73" x2="87.40" y2="523.73" stroke="#000" stroke-width="1.4" />
<text x="78.60" y="527.51" font-size="10.7" text-anchor="end" stroke="#000">2</text>
<line x1="82.00" y1="495.00" x2="87.40" y2="495.00" stroke="#000" stroke-width="1.4" />
<text x="78.60" y="498.78" font-size="10.7" text-anchor="end" stroke="#000">3</text>
<line x1="114.50" y1="581.20" x2="114.50" y2="585.60" stroke="#000" stroke-width="1.4" />
<line x1="154.90" y1="581.20" x2="154.90" y2="585.60" stroke="#000" stroke-width="1.4" />
<path d="M114.00 542.00V494.00H155.20V499.00" stroke="#000" stroke-width="1.25" fill="none" stroke-linejoin="miter"/>
<path d="M135.60 483.10L135.60 490.90M132.22 485.05L138.98 488.95M138.98 485.05L132.22 488.95" stroke="#000" stroke-width="1.5" fill="none" />
<text x="65.80" y="540.00" font-size="10.0" text-anchor="middle" stroke="#000" transform="rotate(-90 65.80 540.00)" textLength="96.00" lengthAdjust="spacingAndGlyphs">mRNA  fold change</text>
<text x="110.60" y="596.82" font-size="11.1" text-anchor="middle" stroke="#000">Vehicle</text>
<text x="154.60" y="596.82" font-size="11.1" text-anchor="middle" stroke="#000">Soto</text>
<text x="281.00" y="471.67" font-size="13.0" text-anchor="middle" font-style="italic" stroke="#000">Cpt2</text>
<rect x="248.00" y="544.60" width="26.60" height="36.70" fill="#4db7d6" />
<rect x="288.40" y="512.00" width="26.60" height="69.30" fill="#e34a33" />
<path d="M261.30 544.90V538.20M254.40 538.20H268.20" stroke="#000" stroke-width="1.4" fill="none" />
<path d="M301.70 512.30V504.80M294.80 504.80H308.60" stroke="#000" stroke-width="1.4" fill="none" />
<path d="M234.10 491.20V581.30H329.60" stroke="#000" stroke-width="1.55" fill="none" />
<line x1="228.70" y1="581.30" x2="234.10" y2="581.30" stroke="#000" stroke-width="1.4" />
<text x="226.50" y="585.08" font-size="10.7" text-anchor="end" stroke="#000">0.0</text>
<line x1="228.70" y1="563.42" x2="234.10" y2="563.42" stroke="#000" stroke-width="1.4" />
<text x="226.50" y="567.20" font-size="10.7" text-anchor="end" stroke="#000">0.5</text>
<line x1="228.70" y1="545.54" x2="234.10" y2="545.54" stroke="#000" stroke-width="1.4" />
<text x="226.50" y="549.32" font-size="10.7" text-anchor="end" stroke="#000">1.0</text>
<line x1="228.70" y1="527.66" x2="234.10" y2="527.66" stroke="#000" stroke-width="1.4" />
<text x="226.50" y="531.44" font-size="10.7" text-anchor="end" stroke="#000">1.5</text>
<line x1="228.70" y1="509.78" x2="234.10" y2="509.78" stroke="#000" stroke-width="1.4" />
<text x="226.50" y="513.56" font-size="10.7" text-anchor="end" stroke="#000">2.0</text>
<line x1="228.70" y1="491.90" x2="234.10" y2="491.90" stroke="#000" stroke-width="1.4" />
<text x="226.50" y="495.68" font-size="10.7" text-anchor="end" stroke="#000">2.5</text>
<line x1="261.30" y1="581.30" x2="261.30" y2="585.70" stroke="#000" stroke-width="1.4" />
<line x1="301.70" y1="581.30" x2="301.70" y2="585.70" stroke="#000" stroke-width="1.4" />
<path d="M261.00 535.60V494.00H302.00V500.00" stroke="#000" stroke-width="1.25" fill="none" stroke-linejoin="miter"/>
<path d="M282.60 483.10L282.60 490.90M279.22 485.05L285.98 488.95M285.98 485.05L279.22 488.95" stroke="#000" stroke-width="1.5" fill="none" />
<text x="206.30" y="535.50" font-size="10.0" text-anchor="middle" stroke="#000" transform="rotate(-90 206.30 535.50)" textLength="96.00" lengthAdjust="spacingAndGlyphs">mRNA  fold change</text>
<text x="260.00" y="596.82" font-size="11.1" text-anchor="middle" stroke="#000">Vehicle</text>
<text x="304.00" y="596.82" font-size="11.1" text-anchor="middle" stroke="#000">Soto</text>
<text x="131.00" y="624.47" font-size="13.0" text-anchor="middle" font-style="italic" stroke="#000">Acadm</text>
<rect x="101.00" y="699.40" width="27.00" height="30.60" fill="#4db7d6" />
<rect x="141.40" y="660.40" width="27.00" height="69.60" fill="#e34a33" />
<path d="M114.50 699.70V693.20M107.60 693.20H121.40" stroke="#000" stroke-width="1.4" fill="none" />
<path d="M154.90 660.70V652.00M148.00 652.00H161.80" stroke="#000" stroke-width="1.4" fill="none" />
<path d="M87.40 639.70V730.00H183.00" stroke="#000" stroke-width="1.55" fill="none" />
<line x1="82.00" y1="730.00" x2="87.40" y2="730.00" stroke="#000" stroke-width="1.4" />
<text x="78.60" y="733.78" font-size="10.7" text-anchor="end" stroke="#000">0</text>
<line x1="82.00" y1="700.13" x2="87.40" y2="700.13" stroke="#000" stroke-width="1.4" />
<text x="78.60" y="703.91" font-size="10.7" text-anchor="end" stroke="#000">1</text>
<line x1="82.00" y1="670.27" x2="87.40" y2="670.27" stroke="#000" stroke-width="1.4" />
<text x="78.60" y="674.05" font-size="10.7" text-anchor="end" stroke="#000">2</text>
<line x1="82.00" y1="640.40" x2="87.40" y2="640.40" stroke="#000" stroke-width="1.4" />
<text x="78.60" y="644.18" font-size="10.7" text-anchor="end" stroke="#000">3</text>
<line x1="114.50" y1="730.00" x2="114.50" y2="734.40" stroke="#000" stroke-width="1.4" />
<line x1="154.90" y1="730.00" x2="154.90" y2="734.40" stroke="#000" stroke-width="1.4" />
<path d="M114.00 690.60V643.40H155.20V648.00" stroke="#000" stroke-width="1.25" fill="none" stroke-linejoin="miter"/>
<path d="M135.60 632.10L135.60 639.90M132.22 634.05L138.98 637.95M138.98 634.05L132.22 637.95" stroke="#000" stroke-width="1.5" fill="none" />
<text x="65.80" y="682.80" font-size="10.0" text-anchor="middle" stroke="#000" transform="rotate(-90 65.80 682.80)" textLength="96.00" lengthAdjust="spacingAndGlyphs">mRNA  fold change</text>
<text x="112.00" y="745.82" font-size="11.1" text-anchor="middle" stroke="#000">Vehicle</text>
<text x="156.00" y="745.82" font-size="11.1" text-anchor="middle" stroke="#000">Soto</text>
<text x="281.00" y="624.07" font-size="13.0" text-anchor="middle" font-style="italic" stroke="#000">Ehhadh</text>
<rect x="248.00" y="694.60" width="26.60" height="35.40" fill="#4db7d6" />
<rect x="288.40" y="662.00" width="26.60" height="68.00" fill="#e34a33" />
<path d="M261.30 694.90V688.40M254.40 688.40H268.20" stroke="#000" stroke-width="1.4" fill="none" />
<path d="M301.70 662.30V653.60M294.80 653.60H308.60" stroke="#000" stroke-width="1.4" fill="none" />
<path d="M234.10 642.90V730.00H329.60" stroke="#000" stroke-width="1.55" fill="none" />
<line x1="228.70" y1="730.00" x2="234.10" y2="730.00" stroke="#000" stroke-width="1.4" />
<text x="226.50" y="733.78" font-size="10.7" text-anchor="end" stroke="#000">0.0</text>
<line x1="228.70" y1="712.72" x2="234.10" y2="712.72" stroke="#000" stroke-width="1.4" />
<text x="226.50" y="716.50" font-size="10.7" text-anchor="end" stroke="#000">0.5</text>
<line x1="228.70" y1="695.44" x2="234.10" y2="695.44" stroke="#000" stroke-width="1.4" />
<text x="226.50" y="699.22" font-size="10.7" text-anchor="end" stroke="#000">1.0</text>
<line x1="228.70" y1="678.16" x2="234.10" y2="678.16" stroke="#000" stroke-width="1.4" />
<text x="226.50" y="681.94" font-size="10.7" text-anchor="end" stroke="#000">1.5</text>
<line x1="228.70" y1="660.88" x2="234.10" y2="660.88" stroke="#000" stroke-width="1.4" />
<text x="226.50" y="664.66" font-size="10.7" text-anchor="end" stroke="#000">2.0</text>
<line x1="228.70" y1="643.60" x2="234.10" y2="643.60" stroke="#000" stroke-width="1.4" />
<text x="226.50" y="647.38" font-size="10.7" text-anchor="end" stroke="#000">2.5</text>
<line x1="261.30" y1="730.00" x2="261.30" y2="734.40" stroke="#000" stroke-width="1.4" />
<line x1="301.70" y1="730.00" x2="301.70" y2="734.40" stroke="#000" stroke-width="1.4" />
<path d="M261.00 686.00V642.60H302.00V648.00" stroke="#000" stroke-width="1.25" fill="none" stroke-linejoin="miter"/>
<path d="M282.60 631.70L282.60 639.50M279.22 633.65L285.98 637.55M285.98 633.65L279.22 637.55" stroke="#000" stroke-width="1.5" fill="none" />
<text x="206.30" y="685.30" font-size="10.0" text-anchor="middle" stroke="#000" transform="rotate(-90 206.30 685.30)" textLength="96.00" lengthAdjust="spacingAndGlyphs">mRNA  fold change</text>
<text x="260.00" y="745.82" font-size="11.1" text-anchor="middle" stroke="#000">Vehicle</text>
<text x="304.00" y="745.82" font-size="11.1" text-anchor="middle" stroke="#000">Soto</text>
</g>
<g id="panelE">
<rect x="369.20" y="508.70" width="99.60" height="99.80" fill="#ddd" filter="url(#t1)"/>
<rect x="478.80" y="508.70" width="99.60" height="99.80" fill="#ddd" filter="url(#t2)"/>
<rect x="589.10" y="508.70" width="100.10" height="99.80" fill="#ddd" filter="url(#t3)"/>
<rect x="699.50" y="508.70" width="100.50" height="99.80" fill="#ddd" filter="url(#t4)"/>
<clipPath id="q1"><rect x="369.20" y="508.70" width="99.60" height="99.80"/></clipPath>
<g clip-path="url(#q1)" filter="url(#b3)">
<circle cx="417.7" cy="511.2" r="1.25" fill="#cfcfcf" stroke="#6a6a6a" stroke-width="0.8"/>
<circle cx="396.0" cy="529.2" r="1.25" fill="#cfcfcf" stroke="#6a6a6a" stroke-width="0.8"/>
<circle cx="401.2" cy="530.0" r="1.25" fill="#cfcfcf" stroke="#6a6a6a" stroke-width="0.8"/>
<circle cx="391.5" cy="533.7" r="1.25" fill="#cfcfcf" stroke="#6a6a6a" stroke-width="0.8"/>
<circle cx="380.2" cy="545.0" r="1.25" fill="#cfcfcf" stroke="#6a6a6a" stroke-width="0.8"/>
<circle cx="414.0" cy="543.5" r="1.25" fill="#cfcfcf" stroke="#6a6a6a" stroke-width="0.8"/>
<circle cx="423.0" cy="551.7" r="1.25" fill="#cfcfcf" stroke="#6a6a6a" stroke-width="0.8"/>
<circle cx="435.7" cy="550.2" r="1.25" fill="#cfcfcf" stroke="#6a6a6a" stroke-width="0.8"/>
<circle cx="452.2" cy="548.7" r="1.25" fill="#cfcfcf" stroke="#6a6a6a" stroke-width="0.8"/>
<circle cx="456.0" cy="544.2" r="1.25" fill="#cfcfcf" stroke="#6a6a6a" stroke-width="0.8"/>
<circle cx="417.7" cy="566.7" r="1.25" fill="#cfcfcf" stroke="#6a6a6a" stroke-width="0.8"/>
<circle cx="442.5" cy="563.7" r="1.15" fill="#505050"/>
<circle cx="462.0" cy="576.5" r="1.25" fill="#cfcfcf" stroke="#6a6a6a" stroke-width="0.8"/>
<circle cx="459.0" cy="559.2" r="1.25" fill="#cfcfcf" stroke="#6a6a6a" stroke-width="0.8"/>
<circle cx="423.0" cy="588.5" r="1.25" fill="#cfcfcf" stroke="#6a6a6a" stroke-width="0.8"/>
<circle cx="394.5" cy="588.5" r="1.25" fill="#cfcfcf" stroke="#6a6a6a" stroke-width="0.8"/>
<circle cx="403.5" cy="590.7" r="1.25" fill="#cfcfcf" stroke="#6a6a6a" stroke-width="0.8"/>
<circle cx="387.7" cy="572.7" r="1.15" fill="#505050"/>
<circle cx="405.0" cy="560.7" r="1.15" fill="#505050"/>
<circle cx="433.5" cy="577.2" r="1.15" fill="#505050"/>
<circle cx="417.0" cy="533.0" r="1.15" fill="#505050"/>
<circle cx="379.5" cy="519.5" r="1.15" fill="#505050"/>
<circle cx="450.0" cy="524.0" r="1.15" fill="#505050"/>
<circle cx="416.2" cy="519.5" r="1.15" fill="#505050"/>
<circle cx="372.0" cy="603.5" r="1.15" fill="#505050"/>
<circle cx="414.3" cy="564.6" r="0.7" fill="#555" opacity="0.8"/>
<circle cx="415.6" cy="559.4" r="0.7" fill="#555" opacity="0.8"/>
<circle cx="387.6" cy="559.8" r="0.7" fill="#555" opacity="0.8"/>
<circle cx="448.2" cy="518.1" r="1.12" fill="none" stroke="#6a6a6a" stroke-width="0.6" opacity="0.75"/>
<circle cx="378.2" cy="589.5" r="0.7" fill="#555" opacity="0.8"/>
<circle cx="373.4" cy="606.7" r="0.7" fill="#555" opacity="0.8"/>
<circle cx="434.3" cy="570.1" r="1.12" fill="none" stroke="#6a6a6a" stroke-width="0.6" opacity="0.75"/>
<circle cx="370.7" cy="561.4" r="1.12" fill="none" stroke="#6a6a6a" stroke-width="0.6" opacity="0.75"/>
<circle cx="388.1" cy="532.8" r="1.12" fill="none" stroke="#6a6a6a" stroke-width="0.6" opacity="0.75"/>
<circle cx="415.4" cy="552.7" r="0.7" fill="#555" opacity="0.8"/>
<circle cx="420.9" cy="572.6" r="1.12" fill="none" stroke="#6a6a6a" stroke-width="0.6" opacity="0.75"/>
<circle cx="435.2" cy="554.3" r="1.12" fill="none" stroke="#6a6a6a" stroke-width="0.6" opacity="0.75"/>
<circle cx="468.6" cy="608.1" r="0.7" fill="#555" opacity="0.8"/>
<circle cx="439.7" cy="540.2" r="1.12" fill="none" stroke="#6a6a6a" stroke-width="0.6" opacity="0.75"/>
<circle cx="398.0" cy="515.7" r="0.7" fill="#555" opacity="0.8"/>
<circle cx="409.1" cy="593.2" r="1.12" fill="none" stroke="#6a6a6a" stroke-width="0.6" opacity="0.75"/>
<circle cx="464.6" cy="593.3" r="1.12" fill="none" stroke="#6a6a6a" stroke-width="0.6" opacity="0.75"/>
<circle cx="390.1" cy="599.5" r="1.12" fill="none" stroke="#6a6a6a" stroke-width="0.6" opacity="0.75"/>
<circle cx="466.8" cy="548.4" r="1.12" fill="none" stroke="#6a6a6a" stroke-width="0.6" opacity="0.75"/>
<circle cx="431.9" cy="586.4" r="1.12" fill="none" stroke="#6a6a6a" stroke-width="0.6" opacity="0.75"/>
<circle cx="377.9" cy="541.9" r="0.7" fill="#555" opacity="0.8"/>
<circle cx="444.7" cy="520.5" r="1.12" fill="none" stroke="#6a6a6a" stroke-width="0.6" opacity="0.75"/>
<circle cx="379.3" cy="514.7" r="0.7" fill="#555" opacity="0.8"/>
<circle cx="386.9" cy="564.5" r="1.12" fill="none" stroke="#6a6a6a" stroke-width="0.6" opacity="0.75"/>
<circle cx="388.2" cy="581.7" r="1.12" fill="none" stroke="#6a6a6a" stroke-width="0.6" opacity="0.75"/>
<circle cx="433.3" cy="520.3" r="1.12" fill="none" stroke="#6a6a6a" stroke-width="0.6" opacity="0.75"/>
<circle cx="390.4" cy="535.6" r="0.7" fill="#555" opacity="0.8"/>
<circle cx="449.2" cy="539.1" r="0.7" fill="#555" opacity="0.8"/>
<circle cx="390.2" cy="548.0" r="0.7" fill="#555" opacity="0.8"/>
<circle cx="433.1" cy="518.7" r="0.7" fill="#555" opacity="0.8"/>
<circle cx="390.4" cy="534.5" r="0.7" fill="#555" opacity="0.8"/>
<circle cx="402.0" cy="538.3" r="1.12" fill="none" stroke="#6a6a6a" stroke-width="0.6" opacity="0.75"/>
<circle cx="378.2" cy="566.9" r="1.12" fill="none" stroke="#6a6a6a" stroke-width="0.6" opacity="0.75"/>
<circle cx="429.1" cy="545.8" r="1.12" fill="none" stroke="#6a6a6a" stroke-width="0.6" opacity="0.75"/>
<circle cx="464.7" cy="557.0" r="0.7" fill="#555" opacity="0.8"/>
<circle cx="455.5" cy="526.9" r="1.12" fill="none" stroke="#6a6a6a" stroke-width="0.6" opacity="0.75"/>
<circle cx="459.7" cy="590.3" r="1.12" fill="none" stroke="#6a6a6a" stroke-width="0.6" opacity="0.75"/>
<circle cx="388.1" cy="582.5" r="0.7" fill="#555" opacity="0.8"/>
<circle cx="388.8" cy="603.5" r="0.7" fill="#555" opacity="0.8"/>
<circle cx="429.3" cy="550.8" r="1.12" fill="none" stroke="#6a6a6a" stroke-width="0.6" opacity="0.75"/>
<circle cx="373.1" cy="604.8" r="1.12" fill="none" stroke="#6a6a6a" stroke-width="0.6" opacity="0.75"/>
<circle cx="439.4" cy="534.3" r="0.7" fill="#555" opacity="0.8"/>
<circle cx="428.6" cy="538.0" r="1.12" fill="none" stroke="#6a6a6a" stroke-width="0.6" opacity="0.75"/>
<circle cx="440.9" cy="515.6" r="1.12" fill="none" stroke="#6a6a6a" stroke-width="0.6" opacity="0.75"/>
<circle cx="424.9" cy="593.8" r="0.7" fill="#555" opacity="0.8"/>
<circle cx="397.1" cy="600.3" r="1.12" fill="none" stroke="#6a6a6a" stroke-width="0.6" opacity="0.75"/>
<circle cx="370.9" cy="535.6" r="1.12" fill="none" stroke="#6a6a6a" stroke-width="0.6" opacity="0.75"/>
<circle cx="375.2" cy="526.3" r="1.12" fill="none" stroke="#6a6a6a" stroke-width="0.6" opacity="0.75"/>
<circle cx="426.2" cy="521.8" r="1.12" fill="none" stroke="#6a6a6a" stroke-width="0.6" opacity="0.75"/>
<circle cx="457.9" cy="606.6" r="0.7" fill="#555" opacity="0.8"/>
<circle cx="438.0" cy="567.0" r="1.12" fill="none" stroke="#6a6a6a" stroke-width="0.6" opacity="0.75"/>
<circle cx="372.7" cy="510.5" r="0.7" fill="#555" opacity="0.8"/>
<circle cx="439.0" cy="604.8" r="1.12" fill="none" stroke="#6a6a6a" stroke-width="0.6" opacity="0.75"/>
<circle cx="432.6" cy="556.8" r="0.7" fill="#555" opacity="0.8"/>
<circle cx="401.0" cy="608.4" r="1.12" fill="none" stroke="#6a6a6a" stroke-width="0.6" opacity="0.75"/>
</g>
<clipPath id="q2"><rect x="478.80" y="508.70" width="99.60" height="99.80"/></clipPath>
<g clip-path="url(#q2)" filter="url(#b3)">
<circle cx="549.5" cy="511.2" r="1.25" fill="#cfcfcf" stroke="#7a7a7a" stroke-width="0.8"/>
<circle cx="561.5" cy="522.5" r="1.25" fill="#cfcfcf" stroke="#7a7a7a" stroke-width="0.8"/>
<circle cx="527.0" cy="518.0" r="1.25" fill="#cfcfcf" stroke="#7a7a7a" stroke-width="0.8"/>
<circle cx="502.2" cy="515.7" r="1.15" fill="#505050"/>
<circle cx="488.7" cy="518.7" r="1.25" fill="#cfcfcf" stroke="#7a7a7a" stroke-width="0.8"/>
<circle cx="538.2" cy="531.5" r="1.25" fill="#cfcfcf" stroke="#7a7a7a" stroke-width="0.8"/>
<circle cx="489.5" cy="551.7" r="1.15" fill="#505050"/>
<circle cx="519.5" cy="554.7" r="1.15" fill="#505050"/>
<circle cx="536.0" cy="557.0" r="1.25" fill="#cfcfcf" stroke="#7a7a7a" stroke-width="0.8"/>
<circle cx="523.2" cy="570.5" r="1.15" fill="#505050"/>
<circle cx="522.5" cy="572.7" r="1.15" fill="#505050"/>
<circle cx="560.0" cy="567.5" r="1.25" fill="#cfcfcf" stroke="#7a7a7a" stroke-width="0.8"/>
<circle cx="563.7" cy="574.2" r="1.25" fill="#cfcfcf" stroke="#7a7a7a" stroke-width="0.8"/>
<circle cx="508.2" cy="573.5" r="1.25" fill="#cfcfcf" stroke="#7a7a7a" stroke-width="0.8"/>
<circle cx="490.2" cy="581.0" r="1.25" fill="#cfcfcf" stroke="#7a7a7a" stroke-width="0.8"/>
<circle cx="576.5" cy="581.0" r="1.15" fill="#505050"/>
<circle cx="524.0" cy="598.2" r="1.25" fill="#cfcfcf" stroke="#7a7a7a" stroke-width="0.8"/>
<circle cx="480.5" cy="543.5" r="1.15" fill="#505050"/>
<circle cx="518.0" cy="526.2" r="1.15" fill="#505050"/>
<circle cx="479.7" cy="606.5" r="1.15" fill="#505050"/>
<circle cx="526.1" cy="574.3" r="0.7" fill="#555" opacity="0.8"/>
<circle cx="493.0" cy="509.8" r="1.12" fill="none" stroke="#7a7a7a" stroke-width="0.6" opacity="0.75"/>
<circle cx="506.1" cy="589.6" r="0.7" fill="#555" opacity="0.8"/>
<circle cx="538.7" cy="564.4" r="0.7" fill="#555" opacity="0.8"/>
<circle cx="493.3" cy="552.6" r="1.12" fill="none" stroke="#7a7a7a" stroke-width="0.6" opacity="0.75"/>
<circle cx="569.0" cy="514.6" r="0.7" fill="#555" opacity="0.8"/>
<circle cx="486.2" cy="577.3" r="1.12" fill="none" stroke="#7a7a7a" stroke-width="0.6" opacity="0.75"/>
<circle cx="519.1" cy="592.8" r="1.12" fill="none" stroke="#7a7a7a" stroke-width="0.6" opacity="0.75"/>
<circle cx="484.9" cy="600.0" r="1.12" fill="none" stroke="#7a7a7a" stroke-width="0.6" opacity="0.75"/>
<circle cx="487.9" cy="607.2" r="0.7" fill="#555" opacity="0.8"/>
<circle cx="490.0" cy="550.9" r="1.12" fill="none" stroke="#7a7a7a" stroke-width="0.6" opacity="0.75"/>
<circle cx="509.9" cy="570.7" r="1.12" fill="none" stroke="#7a7a7a" stroke-width="0.6" opacity="0.75"/>
<circle cx="548.2" cy="513.8" r="1.12" fill="none" stroke="#7a7a7a" stroke-width="0.6" opacity="0.75"/>
<circle cx="560.0" cy="548.7" r="1.12" fill="none" stroke="#7a7a7a" stroke-width="0.6" opacity="0.75"/>
<circle cx="538.2" cy="556.3" r="1.12" fill="none" stroke="#7a7a7a" stroke-width="0.6" opacity="0.75"/>
<circle cx="481.8" cy="581.2" r="0.7" fill="#555" opacity="0.8"/>
<circle cx="576.0" cy="574.9" r="1.12" fill="none" stroke="#7a7a7a" stroke-width="0.6" opacity="0.75"/>
<circle cx="515.0" cy="577.6" r="0.7" fill="#555" opacity="0.8"/>
<circle cx="490.1" cy="532.2" r="1.12" fill="none" stroke="#7a7a7a" stroke-width="0.6" opacity="0.75"/>
<circle cx="529.7" cy="589.5" r="1.12" fill="none" stroke="#7a7a7a" stroke-width="0.6" opacity="0.75"/>
<circle cx="481.6" cy="590.8" r="1.12" fill="none" stroke="#7a7a7a" stroke-width="0.6" opacity="0.75"/>
<circle cx="530.5" cy="530.9" r="1.12" fill="none" stroke="#7a7a7a" stroke-width="0.6" opacity="0.75"/>
<circle cx="517.5" cy="585.7" r="1.12" fill="none" stroke="#7a7a7a" stroke-width="0.6" opacity="0.75"/>
<circle cx="533.6" cy="526.5" r="0.7" fill="#555" opacity="0.8"/>
<circle cx="482.5" cy="536.3" r="1.12" fill="none" stroke="#7a7a7a" stroke-width="0.6" opacity="0.75"/>
<circle cx="542.2" cy="513.9" r="1.12" fill="none" stroke="#7a7a7a" stroke-width="0.6" opacity="0.75"/>
<circle cx="499.6" cy="536.8" r="1.12" fill="none" stroke="#7a7a7a" stroke-width="0.6" opacity="0.75"/>
<circle cx="574.3" cy="556.7" r="0.7" fill="#555" opacity="0.8"/>
<circle cx="495.5" cy="600.9" r="1.12" fill="none" stroke="#7a7a7a" stroke-width="0.6" opacity="0.75"/>
<circle cx="497.6" cy="583.4" r="0.7" fill="#555" opacity="0.8"/>
<circle cx="479.5" cy="535.5" r="0.7" fill="#555" opacity="0.8"/>
<circle cx="512.8" cy="532.8" r="1.12" fill="none" stroke="#7a7a7a" stroke-width="0.6" opacity="0.75"/>
<circle cx="482.8" cy="570.5" r="0.7" fill="#555" opacity="0.8"/>
<circle cx="578.3" cy="559.0" r="1.12" fill="none" stroke="#7a7a7a" stroke-width="0.6" opacity="0.75"/>
<circle cx="510.9" cy="587.3" r="0.7" fill="#555" opacity="0.8"/>
<circle cx="542.5" cy="531.6" r="1.12" fill="none" stroke="#7a7a7a" stroke-width="0.6" opacity="0.75"/>
<circle cx="526.3" cy="571.3" r="1.12" fill="none" stroke="#7a7a7a" stroke-width="0.6" opacity="0.75"/>
<circle cx="573.1" cy="598.0" r="1.12" fill="none" stroke="#7a7a7a" stroke-width="0.6" opacity="0.75"/>
<circle cx="507.8" cy="595.8" r="1.12" fill="none" stroke="#7a7a7a" stroke-width="0.6" opacity="0.75"/>
<circle cx="572.8" cy="560.1" r="0.7" fill="#555" opacity="0.8"/>
<circle cx="549.0" cy="530.1" r="1.12" fill="none" stroke="#7a7a7a" stroke-width="0.6" opacity="0.75"/>
<circle cx="504.2" cy="576.9" r="0.7" fill="#555" opacity="0.8"/>
<circle cx="491.9" cy="597.2" r="1.12" fill="none" stroke="#7a7a7a" stroke-width="0.6" opacity="0.75"/>
<circle cx="502.8" cy="552.1" r="0.7" fill="#555" opacity="0.8"/>
<circle cx="534.6" cy="571.0" r="0.7" fill="#555" opacity="0.8"/>
</g>
<clipPath id="q3"><rect x="589.10" y="508.70" width="100.10" height="99.80"/></clipPath>
<g clip-path="url(#q3)" filter="url(#b3)">
<circle cx="621.3" cy="528.1" r="1.15" fill="#505050"/>
<circle cx="646.0" cy="552.9" r="1.15" fill="#505050"/>
<circle cx="647.4" cy="554.8" r="1.15" fill="#505050"/>
<circle cx="659.8" cy="568.0" r="1.15" fill="#505050"/>
<circle cx="600.6" cy="592.8" r="1.15" fill="#505050"/>
<circle cx="599.3" cy="595.0" r="1.15" fill="#505050"/>
<circle cx="685.9" cy="565.3" r="1.15" fill="#505050"/>
<circle cx="630.9" cy="514.4" r="1.15" fill="#505050"/>
<circle cx="606.1" cy="515.8" r="1.4" fill="#cfcfcf" stroke="#4c4c4c" stroke-width="0.8"/>
<circle cx="595.1" cy="547.4" r="1.4" fill="#cfcfcf" stroke="#4c4c4c" stroke-width="0.8"/>
<circle cx="670.8" cy="525.4" r="1.4" fill="#cfcfcf" stroke="#4c4c4c" stroke-width="0.8"/>
<circle cx="677.6" cy="559.8" r="1.4" fill="#cfcfcf" stroke="#4c4c4c" stroke-width="0.8"/>
<circle cx="615.8" cy="570.8" r="1.4" fill="#cfcfcf" stroke="#4c4c4c" stroke-width="0.8"/>
<circle cx="636.4" cy="585.9" r="1.4" fill="#cfcfcf" stroke="#4c4c4c" stroke-width="0.8"/>
<circle cx="662.5" cy="594.1" r="1.4" fill="#cfcfcf" stroke="#4c4c4c" stroke-width="0.8"/>
<circle cx="607.5" cy="602.4" r="1.4" fill="#cfcfcf" stroke="#4c4c4c" stroke-width="0.8"/>
<circle cx="676.3" cy="599.6" r="1.4" fill="#cfcfcf" stroke="#4c4c4c" stroke-width="0.8"/>
<circle cx="651.5" cy="518.5" r="1.4" fill="#cfcfcf" stroke="#4c4c4c" stroke-width="0.8"/>
<circle cx="596.5" cy="525.4" r="1.4" fill="#cfcfcf" stroke="#4c4c4c" stroke-width="0.8"/>
<circle cx="615.0" cy="577.1" r="0.7" fill="#444" opacity="0.8"/>
<circle cx="674.1" cy="527.2" r="1.26" fill="none" stroke="#4c4c4c" stroke-width="0.6" opacity="0.75"/>
<circle cx="603.8" cy="531.2" r="0.7" fill="#444" opacity="0.8"/>
<circle cx="602.1" cy="561.7" r="1.26" fill="none" stroke="#4c4c4c" stroke-width="0.6" opacity="0.75"/>
<circle cx="618.6" cy="551.8" r="0.7" fill="#444" opacity="0.8"/>
<circle cx="650.0" cy="510.1" r="1.26" fill="none" stroke="#4c4c4c" stroke-width="0.6" opacity="0.75"/>
<circle cx="603.8" cy="595.7" r="0.7" fill="#444" opacity="0.8"/>
<circle cx="669.8" cy="591.2" r="0.7" fill="#444" opacity="0.8"/>
<circle cx="684.1" cy="587.9" r="1.26" fill="none" stroke="#4c4c4c" stroke-width="0.6" opacity="0.75"/>
<circle cx="674.2" cy="557.3" r="0.7" fill="#444" opacity="0.8"/>
<circle cx="645.6" cy="551.6" r="1.26" fill="none" stroke="#4c4c4c" stroke-width="0.6" opacity="0.75"/>
<circle cx="632.1" cy="540.0" r="1.26" fill="none" stroke="#4c4c4c" stroke-width="0.6" opacity="0.75"/>
<circle cx="671.1" cy="588.4" r="0.7" fill="#444" opacity="0.8"/>
<circle cx="658.3" cy="564.0" r="0.7" fill="#444" opacity="0.8"/>
<circle cx="602.6" cy="576.2" r="1.26" fill="none" stroke="#4c4c4c" stroke-width="0.6" opacity="0.75"/>
<circle cx="606.8" cy="528.9" r="1.26" fill="none" stroke="#4c4c4c" stroke-width="0.6" opacity="0.75"/>
<circle cx="614.5" cy="554.6" r="0.7" fill="#444" opacity="0.8"/>
<circle cx="628.7" cy="521.8" r="1.26" fill="none" stroke="#4c4c4c" stroke-width="0.6" opacity="0.75"/>
<circle cx="612.7" cy="532.2" r="1.26" fill="none" stroke="#4c4c4c" stroke-width="0.6" opacity="0.75"/>
<circle cx="625.8" cy="516.0" r="0.7" fill="#444" opacity="0.8"/>
<circle cx="684.6" cy="547.6" r="0.7" fill="#444" opacity="0.8"/>
<circle cx="682.5" cy="513.0" r="1.26" fill="none" stroke="#4c4c4c" stroke-width="0.6" opacity="0.75"/>
<circle cx="669.8" cy="592.3" r="0.7" fill="#444" opacity="0.8"/>
<circle cx="605.1" cy="550.0" r="0.7" fill="#444" opacity="0.8"/>
<circle cx="677.8" cy="588.9" r="1.26" fill="none" stroke="#4c4c4c" stroke-width="0.6" opacity="0.75"/>
<circle cx="674.6" cy="546.1" r="0.7" fill="#444" opacity="0.8"/>
<circle cx="602.8" cy="605.6" r="0.7" fill="#444" opacity="0.8"/>
<circle cx="661.4" cy="529.8" r="0.7" fill="#444" opacity="0.8"/>
<circle cx="647.2" cy="567.7" r="1.26" fill="none" stroke="#4c4c4c" stroke-width="0.6" opacity="0.75"/>
<circle cx="661.9" cy="542.8" r="1.26" fill="none" stroke="#4c4c4c" stroke-width="0.6" opacity="0.75"/>
<circle cx="605.6" cy="577.0" r="1.26" fill="none" stroke="#4c4c4c" stroke-width="0.6" opacity="0.75"/>
<circle cx="611.7" cy="515.6" r="0.7" fill="#444" opacity="0.8"/>
<circle cx="644.8" cy="562.9" r="1.26" fill="none" stroke="#4c4c4c" stroke-width="0.6" opacity="0.75"/>
<circle cx="633.1" cy="542.9" r="1.26" fill="none" stroke="#4c4c4c" stroke-width="0.6" opacity="0.75"/>
<circle cx="589.4" cy="608.3" r="1.26" fill="none" stroke="#4c4c4c" stroke-width="0.6" opacity="0.75"/>
<circle cx="619.3" cy="535.5" r="0.7" fill="#444" opacity="0.8"/>
<circle cx="596.9" cy="555.6" r="1.26" fill="none" stroke="#4c4c4c" stroke-width="0.6" opacity="0.75"/>
<circle cx="672.6" cy="509.3" r="1.26" fill="none" stroke="#4c4c4c" stroke-width="0.6" opacity="0.75"/>
<circle cx="638.8" cy="605.5" r="1.26" fill="none" stroke="#4c4c4c" stroke-width="0.6" opacity="0.75"/>
<circle cx="636.6" cy="575.5" r="1.26" fill="none" stroke="#4c4c4c" stroke-width="0.6" opacity="0.75"/>
<circle cx="592.3" cy="558.7" r="0.7" fill="#444" opacity="0.8"/>
<circle cx="663.0" cy="534.5" r="0.7" fill="#444" opacity="0.8"/>
<circle cx="674.1" cy="534.5" r="0.7" fill="#444" opacity="0.8"/>
<circle cx="624.7" cy="533.1" r="1.26" fill="none" stroke="#4c4c4c" stroke-width="0.6" opacity="0.75"/>
<circle cx="609.5" cy="543.7" r="1.26" fill="none" stroke="#4c4c4c" stroke-width="0.6" opacity="0.75"/>
<circle cx="628.9" cy="517.4" r="0.7" fill="#444" opacity="0.8"/>
<circle cx="649.1" cy="509.1" r="0.7" fill="#444" opacity="0.8"/>
<circle cx="608.2" cy="556.7" r="0.7" fill="#444" opacity="0.8"/>
<circle cx="622.4" cy="537.6" r="1.26" fill="none" stroke="#4c4c4c" stroke-width="0.6" opacity="0.75"/>
<circle cx="602.8" cy="594.9" r="1.26" fill="none" stroke="#4c4c4c" stroke-width="0.6" opacity="0.75"/>
<circle cx="671.5" cy="530.5" r="1.26" fill="none" stroke="#4c4c4c" stroke-width="0.6" opacity="0.75"/>
<circle cx="628.0" cy="512.0" r="1.26" fill="none" stroke="#4c4c4c" stroke-width="0.6" opacity="0.75"/>
<circle cx="625.2" cy="552.8" r="0.7" fill="#444" opacity="0.8"/>
<circle cx="688.2" cy="513.0" r="1.26" fill="none" stroke="#4c4c4c" stroke-width="0.6" opacity="0.75"/>
<circle cx="602.0" cy="588.9" r="1.26" fill="none" stroke="#4c4c4c" stroke-width="0.6" opacity="0.75"/>
<circle cx="678.5" cy="563.1" r="1.26" fill="none" stroke="#4c4c4c" stroke-width="0.6" opacity="0.75"/>
<circle cx="589.6" cy="533.5" r="0.7" fill="#444" opacity="0.8"/>
<circle cx="604.1" cy="556.5" r="1.26" fill="none" stroke="#4c4c4c" stroke-width="0.6" opacity="0.75"/>
<circle cx="623.6" cy="588.7" r="1.26" fill="none" stroke="#4c4c4c" stroke-width="0.6" opacity="0.75"/>
<circle cx="661.0" cy="575.2" r="0.7" fill="#444" opacity="0.8"/>
<circle cx="641.1" cy="600.6" r="1.26" fill="none" stroke="#4c4c4c" stroke-width="0.6" opacity="0.75"/>
<circle cx="646.5" cy="570.6" r="0.7" fill="#444" opacity="0.8"/>
<circle cx="678.9" cy="520.2" r="1.26" fill="none" stroke="#4c4c4c" stroke-width="0.6" opacity="0.75"/>
<circle cx="642.5" cy="589.8" r="1.26" fill="none" stroke="#4c4c4c" stroke-width="0.6" opacity="0.75"/>
<circle cx="619.1" cy="604.7" r="1.26" fill="none" stroke="#4c4c4c" stroke-width="0.6" opacity="0.75"/>
<circle cx="597.8" cy="513.9" r="1.26" fill="none" stroke="#4c4c4c" stroke-width="0.6" opacity="0.75"/>
<circle cx="661.9" cy="519.4" r="0.7" fill="#444" opacity="0.8"/>
<circle cx="675.8" cy="608.5" r="0.7" fill="#444" opacity="0.8"/>
<circle cx="631.6" cy="570.8" r="0.7" fill="#444" opacity="0.8"/>
<circle cx="660.8" cy="537.7" r="0.7" fill="#444" opacity="0.8"/>
<circle cx="600.1" cy="539.5" r="0.7" fill="#444" opacity="0.8"/>
<circle cx="636.3" cy="535.4" r="0.7" fill="#444" opacity="0.8"/>
<circle cx="634.2" cy="509.1" r="1.26" fill="none" stroke="#4c4c4c" stroke-width="0.6" opacity="0.75"/>
<circle cx="615.0" cy="541.8" r="0.7" fill="#444" opacity="0.8"/>
<circle cx="613.9" cy="593.5" r="0.7" fill="#444" opacity="0.8"/>
<circle cx="630.8" cy="607.8" r="0.7" fill="#444" opacity="0.8"/>
<circle cx="637.6" cy="534.8" r="1.26" fill="none" stroke="#4c4c4c" stroke-width="0.6" opacity="0.75"/>
<circle cx="679.4" cy="562.3" r="1.26" fill="none" stroke="#4c4c4c" stroke-width="0.6" opacity="0.75"/>
<circle cx="626.7" cy="556.2" r="1.26" fill="none" stroke="#4c4c4c" stroke-width="0.6" opacity="0.75"/>
<circle cx="646.5" cy="512.1" r="0.7" fill="#444" opacity="0.8"/>
<circle cx="607.0" cy="519.0" r="0.7" fill="#444" opacity="0.8"/>
<circle cx="619.9" cy="597.0" r="1.26" fill="none" stroke="#4c4c4c" stroke-width="0.6" opacity="0.75"/>
<circle cx="641.3" cy="592.0" r="1.26" fill="none" stroke="#4c4c4c" stroke-width="0.6" opacity="0.75"/>
<circle cx="663.7" cy="573.5" r="1.26" fill="none" stroke="#4c4c4c" stroke-width="0.6" opacity="0.75"/>
<circle cx="685.1" cy="510.9" r="0.7" fill="#444" opacity="0.8"/>
<circle cx="603.5" cy="592.5" r="1.26" fill="none" stroke="#4c4c4c" stroke-width="0.6" opacity="0.75"/>
<circle cx="594.5" cy="558.7" r="0.7" fill="#444" opacity="0.8"/>
<circle cx="614.9" cy="557.3" r="0.7" fill="#444" opacity="0.8"/>
<circle cx="613.5" cy="561.6" r="1.26" fill="none" stroke="#4c4c4c" stroke-width="0.6" opacity="0.75"/>
<circle cx="634.1" cy="584.5" r="1.26" fill="none" stroke="#4c4c4c" stroke-width="0.6" opacity="0.75"/>
<circle cx="611.2" cy="513.8" r="0.7" fill="#444" opacity="0.8"/>
<circle cx="631.9" cy="599.9" r="0.7" fill="#444" opacity="0.8"/>
<circle cx="599.1" cy="599.9" r="0.7" fill="#444" opacity="0.8"/>
<circle cx="670.9" cy="591.7" r="0.7" fill="#444" opacity="0.8"/>
<circle cx="661.3" cy="575.3" r="0.7" fill="#444" opacity="0.8"/>
<circle cx="614.8" cy="522.0" r="0.7" fill="#444" opacity="0.8"/>
<circle cx="648.8" cy="514.3" r="0.7" fill="#444" opacity="0.8"/>
<circle cx="650.2" cy="559.8" r="0.7" fill="#444" opacity="0.8"/>
<circle cx="676.8" cy="546.7" r="0.7" fill="#444" opacity="0.8"/>
<circle cx="639.1" cy="565.8" r="1.26" fill="none" stroke="#4c4c4c" stroke-width="0.6" opacity="0.75"/>
<circle cx="682.5" cy="553.1" r="0.7" fill="#444" opacity="0.8"/>
<circle cx="623.0" cy="575.8" r="0.7" fill="#444" opacity="0.8"/>
<circle cx="657.5" cy="546.2" r="1.26" fill="none" stroke="#4c4c4c" stroke-width="0.6" opacity="0.75"/>
<circle cx="637.0" cy="550.0" r="0.7" fill="#444" opacity="0.8"/>
<circle cx="667.6" cy="607.1" r="1.26" fill="none" stroke="#4c4c4c" stroke-width="0.6" opacity="0.75"/>
<circle cx="630.2" cy="565.0" r="0.7" fill="#444" opacity="0.8"/>
<circle cx="597.1" cy="530.2" r="1.26" fill="none" stroke="#4c4c4c" stroke-width="0.6" opacity="0.75"/>
<circle cx="621.6" cy="538.6" r="0.7" fill="#444" opacity="0.8"/>
<circle cx="609.9" cy="601.9" r="1.26" fill="none" stroke="#4c4c4c" stroke-width="0.6" opacity="0.75"/>
<circle cx="609.5" cy="605.9" r="1.26" fill="none" stroke="#4c4c4c" stroke-width="0.6" opacity="0.75"/>
<circle cx="600.4" cy="521.5" r="1.26" fill="none" stroke="#4c4c4c" stroke-width="0.6" opacity="0.75"/>
<circle cx="627.8" cy="529.9" r="1.26" fill="none" stroke="#4c4c4c" stroke-width="0.6" opacity="0.75"/>
<circle cx="590.7" cy="578.4" r="1.26" fill="none" stroke="#4c4c4c" stroke-width="0.6" opacity="0.75"/>
<circle cx="612.3" cy="565.1" r="0.7" fill="#444" opacity="0.8"/>
<circle cx="655.1" cy="579.4" r="0.7" fill="#444" opacity="0.8"/>
<circle cx="668.9" cy="593.8" r="1.26" fill="none" stroke="#4c4c4c" stroke-width="0.6" opacity="0.75"/>
<circle cx="594.5" cy="570.7" r="1.26" fill="none" stroke="#4c4c4c" stroke-width="0.6" opacity="0.75"/>
<circle cx="641.3" cy="586.7" r="1.26" fill="none" stroke="#4c4c4c" stroke-width="0.6" opacity="0.75"/>
<circle cx="659.8" cy="551.3" r="1.26" fill="none" stroke="#4c4c4c" stroke-width="0.6" opacity="0.75"/>
<circle cx="613.6" cy="536.8" r="0.7" fill="#444" opacity="0.8"/>
<circle cx="644.6" cy="599.2" r="1.26" fill="none" stroke="#4c4c4c" stroke-width="0.6" opacity="0.75"/>
<circle cx="660.7" cy="518.4" r="0.7" fill="#444" opacity="0.8"/>
<circle cx="605.2" cy="594.3" r="0.7" fill="#444" opacity="0.8"/>
<circle cx="614.6" cy="589.4" r="1.26" fill="none" stroke="#4c4c4c" stroke-width="0.6" opacity="0.75"/>
<circle cx="619.7" cy="519.0" r="1.26" fill="none" stroke="#4c4c4c" stroke-width="0.6" opacity="0.75"/>
<circle cx="599.5" cy="579.0" r="0.7" fill="#444" opacity="0.8"/>
<circle cx="631.2" cy="579.5" r="1.26" fill="none" stroke="#4c4c4c" stroke-width="0.6" opacity="0.75"/>
<circle cx="622.3" cy="545.0" r="1.26" fill="none" stroke="#4c4c4c" stroke-width="0.6" opacity="0.75"/>
<circle cx="677.9" cy="517.5" r="1.26" fill="none" stroke="#4c4c4c" stroke-width="0.6" opacity="0.75"/>
<circle cx="669.0" cy="590.4" r="1.26" fill="none" stroke="#4c4c4c" stroke-width="0.6" opacity="0.75"/>
<circle cx="631.3" cy="522.6" r="1.26" fill="none" stroke="#4c4c4c" stroke-width="0.6" opacity="0.75"/>
<circle cx="641.2" cy="533.0" r="1.26" fill="none" stroke="#4c4c4c" stroke-width="0.6" opacity="0.75"/>
<circle cx="679.8" cy="510.6" r="1.26" fill="none" stroke="#4c4c4c" stroke-width="0.6" opacity="0.75"/>
<circle cx="664.3" cy="583.2" r="1.26" fill="none" stroke="#4c4c4c" stroke-width="0.6" opacity="0.75"/>
<circle cx="663.4" cy="564.9" r="0.7" fill="#444" opacity="0.8"/>
<circle cx="683.5" cy="588.4" r="0.7" fill="#444" opacity="0.8"/>
<circle cx="666.2" cy="557.8" r="0.7" fill="#444" opacity="0.8"/>
<circle cx="670.9" cy="570.5" r="1.26" fill="none" stroke="#4c4c4c" stroke-width="0.6" opacity="0.75"/>
<circle cx="591.1" cy="587.5" r="1.26" fill="none" stroke="#4c4c4c" stroke-width="0.6" opacity="0.75"/>
<circle cx="632.0" cy="537.4" r="0.7" fill="#444" opacity="0.8"/>
<circle cx="629.2" cy="591.9" r="0.7" fill="#444" opacity="0.8"/>
<circle cx="645.0" cy="586.8" r="1.26" fill="none" stroke="#4c4c4c" stroke-width="0.6" opacity="0.75"/>
<circle cx="642.8" cy="583.6" r="0.7" fill="#444" opacity="0.8"/>
<circle cx="663.5" cy="597.6" r="0.7" fill="#444" opacity="0.8"/>
<circle cx="644.7" cy="527.5" r="1.26" fill="none" stroke="#4c4c4c" stroke-width="0.6" opacity="0.75"/>
<circle cx="632.6" cy="558.5" r="0.7" fill="#444" opacity="0.8"/>
<circle cx="593.4" cy="543.6" r="0.7" fill="#444" opacity="0.8"/>
<circle cx="635.0" cy="593.4" r="1.26" fill="none" stroke="#4c4c4c" stroke-width="0.6" opacity="0.75"/>
<circle cx="666.3" cy="551.7" r="0.7" fill="#444" opacity="0.8"/>
<circle cx="594.8" cy="548.9" r="0.7" fill="#444" opacity="0.8"/>
<circle cx="662.7" cy="565.0" r="1.26" fill="none" stroke="#4c4c4c" stroke-width="0.6" opacity="0.75"/>
<circle cx="593.0" cy="578.5" r="1.26" fill="none" stroke="#4c4c4c" stroke-width="0.6" opacity="0.75"/>
<circle cx="661.6" cy="569.8" r="1.26" fill="none" stroke="#4c4c4c" stroke-width="0.6" opacity="0.75"/>
<circle cx="676.6" cy="521.9" r="0.7" fill="#444" opacity="0.8"/>
<circle cx="597.7" cy="605.4" r="0.7" fill="#444" opacity="0.8"/>
<circle cx="633.9" cy="602.1" r="1.26" fill="none" stroke="#4c4c4c" stroke-width="0.6" opacity="0.75"/>
<circle cx="640.0" cy="514.7" r="0.7" fill="#444" opacity="0.8"/>
<circle cx="653.1" cy="532.6" r="1.26" fill="none" stroke="#4c4c4c" stroke-width="0.6" opacity="0.75"/>
<circle cx="631.1" cy="602.0" r="0.7" fill="#444" opacity="0.8"/>
<circle cx="635.7" cy="512.3" r="0.7" fill="#444" opacity="0.8"/>
<circle cx="609.3" cy="581.6" r="1.26" fill="none" stroke="#4c4c4c" stroke-width="0.6" opacity="0.75"/>
<circle cx="685.6" cy="523.4" r="0.7" fill="#444" opacity="0.8"/>
<circle cx="661.2" cy="510.4" r="0.7" fill="#444" opacity="0.8"/>
<circle cx="618.6" cy="578.1" r="0.7" fill="#444" opacity="0.8"/>
<circle cx="655.8" cy="558.0" r="0.7" fill="#444" opacity="0.8"/>
<circle cx="614.0" cy="555.4" r="1.26" fill="none" stroke="#4c4c4c" stroke-width="0.6" opacity="0.75"/>
<circle cx="661.2" cy="515.3" r="1.26" fill="none" stroke="#4c4c4c" stroke-width="0.6" opacity="0.75"/>
<circle cx="607.1" cy="564.9" r="1.26" fill="none" stroke="#4c4c4c" stroke-width="0.6" opacity="0.75"/>
<circle cx="591.8" cy="571.1" r="0.7" fill="#444" opacity="0.8"/>
<circle cx="678.0" cy="576.3" r="0.7" fill="#444" opacity="0.8"/>
<circle cx="603.4" cy="571.5" r="0.7" fill="#444" opacity="0.8"/>
<circle cx="606.7" cy="522.7" r="1.26" fill="none" stroke="#4c4c4c" stroke-width="0.6" opacity="0.75"/>
<circle cx="641.5" cy="587.3" r="0.7" fill="#444" opacity="0.8"/>
<circle cx="646.3" cy="516.4" r="0.7" fill="#444" opacity="0.8"/>
<circle cx="640.4" cy="525.6" r="0.7" fill="#444" opacity="0.8"/>
<circle cx="613.7" cy="539.5" r="1.26" fill="none" stroke="#4c4c4c" stroke-width="0.6" opacity="0.75"/>
<circle cx="664.3" cy="519.4" r="1.26" fill="none" stroke="#4c4c4c" stroke-width="0.6" opacity="0.75"/>
<circle cx="612.6" cy="575.7" r="0.7" fill="#444" opacity="0.8"/>
<circle cx="615.5" cy="580.5" r="1.26" fill="none" stroke="#4c4c4c" stroke-width="0.6" opacity="0.75"/>
<circle cx="610.9" cy="536.2" r="1.26" fill="none" stroke="#4c4c4c" stroke-width="0.6" opacity="0.75"/>
<circle cx="669.9" cy="568.8" r="1.26" fill="none" stroke="#4c4c4c" stroke-width="0.6" opacity="0.75"/>
<circle cx="667.3" cy="566.6" r="1.26" fill="none" stroke="#4c4c4c" stroke-width="0.6" opacity="0.75"/>
<circle cx="613.2" cy="552.7" r="0.7" fill="#444" opacity="0.8"/>
<circle cx="616.2" cy="522.5" r="0.7" fill="#444" opacity="0.8"/>
<circle cx="633.4" cy="515.7" r="0.7" fill="#444" opacity="0.8"/>
<circle cx="600.1" cy="545.1" r="0.7" fill="#444" opacity="0.8"/>
<circle cx="655.6" cy="598.4" r="1.26" fill="none" stroke="#4c4c4c" stroke-width="0.6" opacity="0.75"/>
<circle cx="646.1" cy="596.5" r="1.26" fill="none" stroke="#4c4c4c" stroke-width="0.6" opacity="0.75"/>
<circle cx="660.6" cy="555.3" r="0.7" fill="#444" opacity="0.8"/>
<circle cx="685.0" cy="542.6" r="0.7" fill="#444" opacity="0.8"/>
<circle cx="623.6" cy="597.3" r="0.7" fill="#444" opacity="0.8"/>
<circle cx="675.0" cy="595.9" r="0.7" fill="#444" opacity="0.8"/>
<circle cx="684.2" cy="524.2" r="0.7" fill="#444" opacity="0.8"/>
<circle cx="596.5" cy="566.9" r="0.7" fill="#444" opacity="0.8"/>
<circle cx="617.6" cy="589.7" r="1.26" fill="none" stroke="#4c4c4c" stroke-width="0.6" opacity="0.75"/>
<circle cx="608.9" cy="528.0" r="0.7" fill="#444" opacity="0.8"/>
<circle cx="627.6" cy="513.4" r="1.26" fill="none" stroke="#4c4c4c" stroke-width="0.6" opacity="0.75"/>
<circle cx="686.7" cy="555.8" r="0.7" fill="#444" opacity="0.8"/>
<circle cx="631.8" cy="515.8" r="0.7" fill="#444" opacity="0.8"/>
<circle cx="610.1" cy="520.9" r="0.7" fill="#444" opacity="0.8"/>
<circle cx="656.7" cy="509.8" r="0.7" fill="#444" opacity="0.8"/>
<circle cx="591.2" cy="525.3" r="1.26" fill="none" stroke="#4c4c4c" stroke-width="0.6" opacity="0.75"/>
<circle cx="668.9" cy="582.8" r="0.7" fill="#444" opacity="0.8"/>
<circle cx="632.1" cy="599.7" r="1.26" fill="none" stroke="#4c4c4c" stroke-width="0.6" opacity="0.75"/>
<circle cx="685.3" cy="513.7" r="1.26" fill="none" stroke="#4c4c4c" stroke-width="0.6" opacity="0.75"/>
<circle cx="664.3" cy="585.5" r="0.7" fill="#444" opacity="0.8"/>
<circle cx="614.0" cy="595.2" r="1.26" fill="none" stroke="#4c4c4c" stroke-width="0.6" opacity="0.75"/>
<circle cx="609.7" cy="518.3" r="0.7" fill="#444" opacity="0.8"/>
<circle cx="594.7" cy="530.6" r="1.26" fill="none" stroke="#4c4c4c" stroke-width="0.6" opacity="0.75"/>
<circle cx="678.5" cy="591.6" r="0.7" fill="#444" opacity="0.8"/>
</g>
<clipPath id="q4"><rect x="699.50" y="508.70" width="100.50" height="99.80"/></clipPath>
<g clip-path="url(#q4)" filter="url(#b3)">
<circle cx="707.9" cy="513.0" r="1.25" fill="#cfcfcf" stroke="#808080" stroke-width="0.8"/>
<circle cx="751.9" cy="519.9" r="1.25" fill="#cfcfcf" stroke="#808080" stroke-width="0.8"/>
<circle cx="783.5" cy="522.6" r="1.25" fill="#cfcfcf" stroke="#808080" stroke-width="0.8"/>
<circle cx="745.0" cy="532.3" r="1.15" fill="#505050"/>
<circle cx="778.0" cy="543.3" r="1.25" fill="#cfcfcf" stroke="#808080" stroke-width="0.8"/>
<circle cx="718.9" cy="590.0" r="1.15" fill="#505050"/>
<circle cx="790.4" cy="595.5" r="1.15" fill="#505050"/>
<circle cx="769.8" cy="569.4" r="1.25" fill="#cfcfcf" stroke="#808080" stroke-width="0.8"/>
<circle cx="701.0" cy="537.8" r="1.25" fill="#cfcfcf" stroke="#808080" stroke-width="0.8"/>
<circle cx="758.8" cy="559.8" r="1.25" fill="#cfcfcf" stroke="#808080" stroke-width="0.8"/>
<circle cx="734.0" cy="570.8" r="1.25" fill="#cfcfcf" stroke="#808080" stroke-width="0.8"/>
<circle cx="712.0" cy="562.5" r="1.25" fill="#cfcfcf" stroke="#808080" stroke-width="0.8"/>
<circle cx="710.2" cy="578.8" r="0.7" fill="#555" opacity="0.8"/>
<circle cx="794.0" cy="535.8" r="1.12" fill="none" stroke="#808080" stroke-width="0.6" opacity="0.75"/>
<circle cx="773.3" cy="574.4" r="1.12" fill="none" stroke="#808080" stroke-width="0.6" opacity="0.75"/>
<circle cx="768.3" cy="548.3" r="0.7" fill="#555" opacity="0.8"/>
<circle cx="711.4" cy="531.0" r="0.7" fill="#555" opacity="0.8"/>
<circle cx="735.5" cy="534.7" r="0.7" fill="#555" opacity="0.8"/>
<circle cx="763.0" cy="523.6" r="0.7" fill="#555" opacity="0.8"/>
<circle cx="766.2" cy="525.2" r="0.7" fill="#555" opacity="0.8"/>
<circle cx="711.9" cy="542.3" r="1.12" fill="none" stroke="#808080" stroke-width="0.6" opacity="0.75"/>
<circle cx="720.0" cy="606.3" r="1.12" fill="none" stroke="#808080" stroke-width="0.6" opacity="0.75"/>
<circle cx="799.0" cy="552.5" r="0.7" fill="#555" opacity="0.8"/>
<circle cx="787.2" cy="577.3" r="1.12" fill="none" stroke="#808080" stroke-width="0.6" opacity="0.75"/>
<circle cx="758.7" cy="571.9" r="1.12" fill="none" stroke="#808080" stroke-width="0.6" opacity="0.75"/>
<circle cx="709.0" cy="596.0" r="1.12" fill="none" stroke="#808080" stroke-width="0.6" opacity="0.75"/>
<circle cx="719.0" cy="553.9" r="1.12" fill="none" stroke="#808080" stroke-width="0.6" opacity="0.75"/>
<circle cx="779.7" cy="558.6" r="1.12" fill="none" stroke="#808080" stroke-width="0.6" opacity="0.75"/>
<circle cx="781.7" cy="517.6" r="1.12" fill="none" stroke="#808080" stroke-width="0.6" opacity="0.75"/>
<circle cx="702.3" cy="582.6" r="1.12" fill="none" stroke="#808080" stroke-width="0.6" opacity="0.75"/>
<circle cx="752.3" cy="518.0" r="1.12" fill="none" stroke="#808080" stroke-width="0.6" opacity="0.75"/>
<circle cx="768.4" cy="562.1" r="1.12" fill="none" stroke="#808080" stroke-width="0.6" opacity="0.75"/>
<circle cx="748.2" cy="552.3" r="0.7" fill="#555" opacity="0.8"/>
<circle cx="709.0" cy="556.1" r="1.12" fill="none" stroke="#808080" stroke-width="0.6" opacity="0.75"/>
<circle cx="786.5" cy="602.4" r="1.12" fill="none" stroke="#808080" stroke-width="0.6" opacity="0.75"/>
<circle cx="713.9" cy="578.9" r="0.7" fill="#555" opacity="0.8"/>
<circle cx="701.4" cy="579.0" r="0.7" fill="#555" opacity="0.8"/>
<circle cx="742.0" cy="543.4" r="0.7" fill="#555" opacity="0.8"/>
<circle cx="793.9" cy="535.0" r="1.12" fill="none" stroke="#808080" stroke-width="0.6" opacity="0.75"/>
<circle cx="718.5" cy="571.4" r="1.12" fill="none" stroke="#808080" stroke-width="0.6" opacity="0.75"/>
<circle cx="725.2" cy="547.4" r="1.12" fill="none" stroke="#808080" stroke-width="0.6" opacity="0.75"/>
<circle cx="730.9" cy="606.8" r="0.7" fill="#555" opacity="0.8"/>
<circle cx="727.9" cy="602.1" r="1.12" fill="none" stroke="#808080" stroke-width="0.6" opacity="0.75"/>
<circle cx="724.8" cy="512.2" r="1.12" fill="none" stroke="#808080" stroke-width="0.6" opacity="0.75"/>
<circle cx="719.5" cy="531.7" r="0.7" fill="#555" opacity="0.8"/>
<circle cx="726.1" cy="533.5" r="0.7" fill="#555" opacity="0.8"/>
<circle cx="791.7" cy="537.8" r="0.7" fill="#555" opacity="0.8"/>
<circle cx="736.6" cy="564.7" r="0.7" fill="#555" opacity="0.8"/>
<circle cx="794.2" cy="584.3" r="1.12" fill="none" stroke="#808080" stroke-width="0.6" opacity="0.75"/>
<circle cx="784.1" cy="545.3" r="1.12" fill="none" stroke="#808080" stroke-width="0.6" opacity="0.75"/>
<circle cx="796.0" cy="563.2" r="0.7" fill="#555" opacity="0.8"/>
<circle cx="731.1" cy="600.0" r="0.7" fill="#555" opacity="0.8"/>
</g>
<rect x="369.20" y="645.90" width="99.60" height="100.00" fill="#eaeaea" />
<rect x="478.80" y="645.90" width="99.60" height="100.00" fill="#e3e3e3" />
<rect x="589.10" y="645.90" width="100.10" height="100.00" fill="#e7e7e7" />
<rect x="699.50" y="645.90" width="100.50" height="100.00" fill="#ddd" filter="url(#t5)"/>
<clipPath id="k1"><rect x="369.20" y="645.90" width="99.60" height="100.00"/></clipPath>
<g clip-path="url(#k1)" filter="url(#b3)">
<path d="M382.6 730.6l-1.2 1.1M418.5 690.8l-1.4 2.6M378.5 648.7l-1.8 1.0M445.1 646.1l0.5 2.8M392.0 740.4l-1.0 0.3M371.7 700.0l-1.9 0.4M390.8 688.1l1.5 0.1M412.8 695.5l1.2 1.1M391.0 691.9l0.6 0.8M452.6 701.5l-0.6 1.3M468.1 731.9l1.7 0.7M441.1 717.0l-2.0 0.4M451.9 712.9l1.4 2.0M457.1 730.5l-0.0 2.5M372.6 670.2l-1.6 1.2M386.4 700.8l-1.6 2.2M406.5 689.8l-0.1 2.9M421.1 685.2l0.0 1.1M373.5 716.2l-2.5 0.1M408.4 662.9l-0.0 3.5M445.9 699.9l-1.4 0.7M420.4 741.1l-0.5 2.1M396.0 700.7l-1.0 0.1M447.3 727.9l-2.7 1.0M449.8 697.8l-0.4 2.0M374.8 732.9l-0.3 1.5M419.5 694.4l0.8 1.7M422.8 708.2l-0.7 2.0M372.0 668.9l2.1 1.3M455.0 725.7l-2.4 1.8M394.6 730.1l-0.6 1.0M370.9 647.4l-1.2 1.1M380.1 708.4l0.6 1.0M385.1 698.6l1.5 0.8M440.1 691.4l1.2 1.9M371.6 684.6l0.4 1.4M380.0 735.9l-0.0 1.5M429.5 727.6l1.0 0.1M383.8 717.8l2.4 1.3M436.7 700.4l2.6 2.2M448.7 697.6l2.0 1.7M408.5 703.5l1.4 2.2M375.1 675.8l-3.2 0.3M399.7 731.8l1.9 2.8M443.3 687.5l0.7 0.7" stroke="#b4b4b4" stroke-width="0.7" fill="none" />
<circle cx="371.9" cy="646.9" r="2.0" fill="#474747"/>
<circle cx="417.2" cy="651.7" r="2.0" fill="#f0f0f0" stroke="#a8a8a8" stroke-width="0.8"/>
<ellipse cx="429.6" cy="649.6" rx="1.75" ry="1.38" fill="#929292" stroke="#484848" stroke-width="0.85"/>
<circle cx="453.0" cy="648.2" r="2.0" fill="#474747"/>
<ellipse cx="463.3" cy="651.0" rx="2.09" ry="1.78" fill="#929292" stroke="#484848" stroke-width="0.85"/>
<ellipse cx="409.0" cy="657.9" rx="1.65" ry="1.58" fill="#929292" stroke="#484848" stroke-width="0.85"/>
<circle cx="435.8" cy="662.7" r="2.0" fill="#f0f0f0" stroke="#a8a8a8" stroke-width="0.8"/>
<circle cx="450.2" cy="660.6" r="3.0" fill="#565656"/>
<circle cx="447.5" cy="659.2" r="2.0" fill="#474747"/>
<circle cx="453.7" cy="662.0" r="2.0" fill="#474747"/>
<ellipse cx="388.4" cy="664.8" rx="2.12" ry="1.76" fill="#929292" stroke="#484848" stroke-width="0.85"/>
<circle cx="376.7" cy="667.5" r="2.0" fill="#474747"/>
<ellipse cx="378.1" cy="670.5" rx="1.86" ry="1.65" fill="#929292" stroke="#484848" stroke-width="0.85"/>
<circle cx="406.2" cy="666.8" r="2.4" fill="#bcbcbc"/>
<circle cx="424.1" cy="666.1" r="2.4" fill="#bcbcbc"/>
<ellipse cx="397.3" cy="673.0" rx="1.63" ry="1.75" fill="#929292" stroke="#484848" stroke-width="0.85"/>
<ellipse cx="406.2" cy="673.7" rx="1.67" ry="1.97" fill="#929292" stroke="#484848" stroke-width="0.85"/>
<ellipse cx="429.6" cy="678.5" rx="1.59" ry="1.66" fill="#929292" stroke="#484848" stroke-width="0.85"/>
<ellipse cx="433.1" cy="679.9" rx="1.62" ry="2.01" fill="#929292" stroke="#484848" stroke-width="0.85"/>
<circle cx="434.4" cy="683.3" r="2.0" fill="#474747"/>
<circle cx="426.9" cy="682.6" r="0.9" fill="#5a5a5a"/>
<ellipse cx="392.5" cy="679.9" rx="1.65" ry="1.85" fill="#929292" stroke="#484848" stroke-width="0.85"/>
<ellipse cx="399.4" cy="682.6" rx="1.81" ry="1.99" fill="#929292" stroke="#484848" stroke-width="0.85"/>
<ellipse cx="374.6" cy="681.9" rx="1.76" ry="1.36" fill="#929292" stroke="#484848" stroke-width="0.85"/>
<ellipse cx="459.2" cy="681.9" rx="1.53" ry="1.83" fill="#929292" stroke="#484848" stroke-width="0.85"/>
<ellipse cx="444.8" cy="685.4" rx="2.11" ry="1.62" fill="#929292" stroke="#484848" stroke-width="0.85"/>
<ellipse cx="392.5" cy="687.4" rx="1.55" ry="1.72" fill="#929292" stroke="#484848" stroke-width="0.85"/>
<circle cx="377.4" cy="687.4" r="0.9" fill="#5a5a5a"/>
<ellipse cx="415.9" cy="689.5" rx="1.97" ry="1.80" fill="#929292" stroke="#484848" stroke-width="0.85"/>
<ellipse cx="420.7" cy="689.5" rx="1.90" ry="1.47" fill="#929292" stroke="#484848" stroke-width="0.85"/>
<ellipse cx="424.1" cy="691.6" rx="2.02" ry="1.63" fill="#929292" stroke="#484848" stroke-width="0.85"/>
<ellipse cx="431.7" cy="688.1" rx="1.94" ry="1.95" fill="#929292" stroke="#484848" stroke-width="0.85"/>
<circle cx="395.9" cy="692.9" r="2.0" fill="#474747"/>
<ellipse cx="387.0" cy="695.0" rx="1.71" ry="1.97" fill="#929292" stroke="#484848" stroke-width="0.85"/>
<ellipse cx="391.1" cy="699.1" rx="1.41" ry="1.83" fill="#929292" stroke="#484848" stroke-width="0.85"/>
<ellipse cx="373.2" cy="696.4" rx="1.84" ry="1.43" fill="#929292" stroke="#484848" stroke-width="0.85"/>
<circle cx="378.1" cy="697.1" r="2.0" fill="#474747"/>
<circle cx="402.1" cy="697.8" r="2.4" fill="#bcbcbc"/>
<ellipse cx="457.1" cy="694.3" rx="1.92" ry="1.66" fill="#929292" stroke="#484848" stroke-width="0.85"/>
<circle cx="458.5" cy="697.1" r="2.0" fill="#474747"/>
<circle cx="413.8" cy="700.5" r="2.0" fill="#f0f0f0" stroke="#a8a8a8" stroke-width="0.8"/>
<circle cx="447.5" cy="703.9" r="2.0" fill="#474747"/>
<circle cx="451.6" cy="704.6" r="3.0" fill="#565656"/>
<circle cx="377.4" cy="707.4" r="2.0" fill="#f0f0f0" stroke="#a8a8a8" stroke-width="0.8"/>
<circle cx="433.8" cy="707.4" r="2.4" fill="#bcbcbc"/>
<ellipse cx="393.2" cy="710.8" rx="1.87" ry="1.53" fill="#929292" stroke="#484848" stroke-width="0.85"/>
<circle cx="378.8" cy="710.8" r="0.9" fill="#5a5a5a"/>
<ellipse cx="461.9" cy="710.8" rx="1.59" ry="1.75" fill="#929292" stroke="#484848" stroke-width="0.85"/>
<circle cx="435.1" cy="714.2" r="2.4" fill="#bcbcbc"/>
<ellipse cx="411.8" cy="718.4" rx="1.98" ry="1.61" fill="#929292" stroke="#484848" stroke-width="0.85"/>
<ellipse cx="415.9" cy="719.1" rx="2.13" ry="1.68" fill="#929292" stroke="#484848" stroke-width="0.85"/>
<ellipse cx="422.8" cy="717.0" rx="1.59" ry="1.95" fill="#929292" stroke="#484848" stroke-width="0.85"/>
<ellipse cx="431.0" cy="719.8" rx="1.37" ry="1.76" fill="#929292" stroke="#484848" stroke-width="0.85"/>
<ellipse cx="433.8" cy="718.4" rx="1.68" ry="2.11" fill="#929292" stroke="#484848" stroke-width="0.85"/>
<circle cx="459.9" cy="717.0" r="2.0" fill="#f0f0f0" stroke="#a8a8a8" stroke-width="0.8"/>
<ellipse cx="455.8" cy="721.1" rx="2.03" ry="1.74" fill="#929292" stroke="#484848" stroke-width="0.85"/>
<ellipse cx="428.2" cy="725.9" rx="1.72" ry="1.88" fill="#929292" stroke="#484848" stroke-width="0.85"/>
<ellipse cx="414.5" cy="729.4" rx="1.84" ry="1.56" fill="#929292" stroke="#484848" stroke-width="0.85"/>
<ellipse cx="408.3" cy="730.8" rx="1.67" ry="1.60" fill="#929292" stroke="#484848" stroke-width="0.85"/>
<ellipse cx="428.2" cy="730.8" rx="1.45" ry="1.87" fill="#929292" stroke="#484848" stroke-width="0.85"/>
<ellipse cx="438.6" cy="730.8" rx="1.97" ry="1.58" fill="#929292" stroke="#484848" stroke-width="0.85"/>
<ellipse cx="446.1" cy="726.6" rx="1.95" ry="1.52" fill="#929292" stroke="#484848" stroke-width="0.85"/>
<circle cx="461.2" cy="731.4" r="2.0" fill="#474747"/>
<circle cx="373.2" cy="730.8" r="2.0" fill="#f0f0f0" stroke="#a8a8a8" stroke-width="0.8"/>
<circle cx="371.2" cy="728.0" r="2.4" fill="#bcbcbc"/>
<circle cx="377.4" cy="741.8" r="3.0" fill="#565656"/>
<circle cx="381.5" cy="739.7" r="2.0" fill="#474747"/>
<ellipse cx="426.9" cy="741.8" rx="1.75" ry="1.98" fill="#929292" stroke="#484848" stroke-width="0.85"/>
<ellipse cx="450.9" cy="743.1" rx="1.72" ry="1.39" fill="#929292" stroke="#484848" stroke-width="0.85"/>
<circle cx="421.4" cy="674.4" r="0.9" fill="#5a5a5a"/>
<circle cx="423.4" cy="677.1" r="0.9" fill="#5a5a5a"/>
<circle cx="425.5" cy="679.9" r="0.9" fill="#5a5a5a"/>
<circle cx="439.2" cy="684.0" r="0.9" fill="#5a5a5a"/>
<circle cx="461.2" cy="656.5" r="0.9" fill="#5a5a5a"/>
<circle cx="465.4" cy="649.6" r="0.9" fill="#5a5a5a"/>
<circle cx="398.0" cy="708.8" r="0.9" fill="#5a5a5a"/>
<circle cx="399.4" cy="714.2" r="0.9" fill="#5a5a5a"/>
<circle cx="448.9" cy="714.2" r="0.9" fill="#5a5a5a"/>
<circle cx="453.0" cy="711.5" r="0.9" fill="#5a5a5a"/>
</g>
<clipPath id="k2"><rect x="478.80" y="645.90" width="99.60" height="100.00"/></clipPath>
<g clip-path="url(#k2)" filter="url(#b3)">
<path d="M574.0 740.7l1.2 0.2M562.0 719.5l-0.9 1.5M539.2 706.6l-0.4 1.4M521.7 685.3l-2.2 2.7M573.4 700.3l0.3 1.6M482.4 648.6l0.2 1.8M516.6 735.1l-0.2 2.4M502.3 648.3l0.7 1.1M529.6 745.8l-0.8 1.2M567.8 725.6l-2.2 2.4M554.8 724.9l1.5 3.1M574.6 662.0l-2.0 1.9M524.8 698.9l0.1 3.3M528.7 729.1l1.4 2.9M568.4 692.0l-0.7 3.2M550.9 694.6l1.4 1.2M548.5 662.5l-1.6 0.5M569.6 676.9l-2.7 0.4M529.0 697.7l-1.1 2.2M509.9 666.7l-0.1 3.3M540.9 653.4l-2.4 1.5M569.2 665.0l-0.8 0.8M543.8 673.2l2.4 2.1M489.4 698.1l-1.4 0.7M499.8 734.0l0.7 2.7M482.0 682.1l2.3 1.4M487.1 741.4l2.8 0.2M480.9 671.5l-1.2 0.8M497.1 715.0l0.4 1.0M577.4 661.0l1.8 0.2M540.1 720.1l1.7 0.6M481.9 690.8l-2.1 1.9M568.6 721.5l-2.5 1.2M525.9 668.5l-0.9 1.6M489.0 690.7l-1.2 0.5M537.1 685.2l-0.1 1.4M574.4 671.8l-0.7 1.9M480.6 701.7l1.0 0.5M482.1 662.0l2.5 0.8M529.4 744.2l-3.4 0.7M502.0 690.4l1.7 1.8M541.0 725.9l-1.0 1.3M520.9 698.5l1.1 0.0M519.5 657.0l-1.0 1.2M488.7 664.1l1.2 1.0" stroke="#b4b4b4" stroke-width="0.7" fill="none" />
<ellipse cx="481.2" cy="646.9" rx="1.75" ry="1.73" fill="#929292" stroke="#484848" stroke-width="0.85"/>
<ellipse cx="486.7" cy="646.9" rx="1.71" ry="1.90" fill="#929292" stroke="#484848" stroke-width="0.85"/>
<ellipse cx="495.6" cy="650.3" rx="1.77" ry="2.06" fill="#929292" stroke="#484848" stroke-width="0.85"/>
<ellipse cx="499.1" cy="647.6" rx="2.07" ry="1.61" fill="#929292" stroke="#484848" stroke-width="0.85"/>
<circle cx="509.4" cy="648.2" r="2.0" fill="#474747"/>
<ellipse cx="553.4" cy="647.6" rx="1.72" ry="1.79" fill="#929292" stroke="#484848" stroke-width="0.85"/>
<ellipse cx="556.1" cy="648.9" rx="1.61" ry="1.53" fill="#929292" stroke="#484848" stroke-width="0.85"/>
<ellipse cx="534.8" cy="653.8" rx="1.72" ry="1.80" fill="#929292" stroke="#484848" stroke-width="0.85"/>
<circle cx="538.9" cy="653.1" r="2.0" fill="#474747"/>
<ellipse cx="542.4" cy="653.8" rx="1.43" ry="1.75" fill="#929292" stroke="#484848" stroke-width="0.85"/>
<ellipse cx="535.5" cy="657.9" rx="1.85" ry="1.55" fill="#929292" stroke="#484848" stroke-width="0.85"/>
<ellipse cx="538.2" cy="659.9" rx="1.93" ry="1.91" fill="#929292" stroke="#484848" stroke-width="0.85"/>
<ellipse cx="535.5" cy="662.0" rx="1.72" ry="1.61" fill="#929292" stroke="#484848" stroke-width="0.85"/>
<ellipse cx="542.4" cy="663.4" rx="1.94" ry="1.46" fill="#929292" stroke="#484848" stroke-width="0.85"/>
<ellipse cx="486.7" cy="664.1" rx="1.58" ry="2.06" fill="#929292" stroke="#484848" stroke-width="0.85"/>
<ellipse cx="487.4" cy="670.9" rx="1.47" ry="1.87" fill="#929292" stroke="#484848" stroke-width="0.85"/>
<circle cx="536.9" cy="668.2" r="2.0" fill="#474747"/>
<ellipse cx="539.6" cy="669.6" rx="1.99" ry="1.65" fill="#929292" stroke="#484848" stroke-width="0.85"/>
<circle cx="544.4" cy="670.9" r="2.0" fill="#474747"/>
<circle cx="545.1" cy="672.7" r="2.0" fill="#474747"/>
<ellipse cx="532.8" cy="675.8" rx="1.49" ry="1.97" fill="#929292" stroke="#484848" stroke-width="0.85"/>
<ellipse cx="535.5" cy="675.1" rx="1.70" ry="1.79" fill="#929292" stroke="#484848" stroke-width="0.85"/>
<ellipse cx="538.2" cy="673.0" rx="1.64" ry="1.93" fill="#929292" stroke="#484848" stroke-width="0.85"/>
<ellipse cx="564.4" cy="669.6" rx="1.45" ry="1.88" fill="#929292" stroke="#484848" stroke-width="0.85"/>
<ellipse cx="571.9" cy="667.5" rx="1.86" ry="1.99" fill="#929292" stroke="#484848" stroke-width="0.85"/>
<circle cx="492.9" cy="682.6" r="2.0" fill="#474747"/>
<ellipse cx="495.6" cy="684.0" rx="1.64" ry="2.06" fill="#929292" stroke="#484848" stroke-width="0.85"/>
<ellipse cx="493.6" cy="688.1" rx="1.62" ry="1.93" fill="#929292" stroke="#484848" stroke-width="0.85"/>
<ellipse cx="510.1" cy="682.6" rx="1.68" ry="1.79" fill="#929292" stroke="#484848" stroke-width="0.85"/>
<circle cx="517.6" cy="681.2" r="2.0" fill="#f0f0f0" stroke="#a8a8a8" stroke-width="0.8"/>
<ellipse cx="514.9" cy="691.6" rx="1.83" ry="1.58" fill="#929292" stroke="#484848" stroke-width="0.85"/>
<ellipse cx="551.3" cy="682.6" rx="1.41" ry="1.79" fill="#929292" stroke="#484848" stroke-width="0.85"/>
<ellipse cx="537.6" cy="691.6" rx="1.68" ry="2.10" fill="#929292" stroke="#484848" stroke-width="0.85"/>
<ellipse cx="556.1" cy="691.6" rx="2.00" ry="1.86" fill="#929292" stroke="#484848" stroke-width="0.85"/>
<ellipse cx="571.9" cy="690.9" rx="1.66" ry="1.46" fill="#929292" stroke="#484848" stroke-width="0.85"/>
<circle cx="570.6" cy="696.4" r="2.0" fill="#474747"/>
<ellipse cx="569.9" cy="699.1" rx="1.94" ry="1.78" fill="#929292" stroke="#484848" stroke-width="0.85"/>
<ellipse cx="486.7" cy="697.1" rx="1.86" ry="1.64" fill="#929292" stroke="#484848" stroke-width="0.85"/>
<ellipse cx="490.1" cy="700.5" rx="1.66" ry="1.80" fill="#929292" stroke="#484848" stroke-width="0.85"/>
<circle cx="483.9" cy="701.9" r="2.0" fill="#f0f0f0" stroke="#a8a8a8" stroke-width="0.8"/>
<ellipse cx="491.5" cy="703.9" rx="1.81" ry="1.51" fill="#929292" stroke="#484848" stroke-width="0.85"/>
<ellipse cx="494.9" cy="703.2" rx="1.75" ry="1.73" fill="#929292" stroke="#484848" stroke-width="0.85"/>
<ellipse cx="501.8" cy="698.4" rx="2.10" ry="1.64" fill="#929292" stroke="#484848" stroke-width="0.85"/>
<ellipse cx="504.6" cy="699.8" rx="2.10" ry="1.67" fill="#929292" stroke="#484848" stroke-width="0.85"/>
<circle cx="565.8" cy="702.6" r="0.9" fill="#5a5a5a"/>
<ellipse cx="573.3" cy="707.4" rx="1.54" ry="1.74" fill="#929292" stroke="#484848" stroke-width="0.85"/>
<ellipse cx="574.0" cy="710.1" rx="1.65" ry="1.66" fill="#929292" stroke="#484848" stroke-width="0.85"/>
<ellipse cx="538.2" cy="710.1" rx="1.79" ry="1.86" fill="#929292" stroke="#484848" stroke-width="0.85"/>
<ellipse cx="541.0" cy="712.9" rx="1.99" ry="1.58" fill="#929292" stroke="#484848" stroke-width="0.85"/>
<circle cx="545.8" cy="708.1" r="2.0" fill="#f0f0f0" stroke="#a8a8a8" stroke-width="0.8"/>
<ellipse cx="547.2" cy="712.2" rx="1.75" ry="1.43" fill="#929292" stroke="#484848" stroke-width="0.85"/>
<ellipse cx="543.1" cy="714.2" rx="1.88" ry="2.02" fill="#929292" stroke="#484848" stroke-width="0.85"/>
<ellipse cx="481.9" cy="714.2" rx="1.54" ry="1.89" fill="#929292" stroke="#484848" stroke-width="0.85"/>
<circle cx="497.7" cy="712.2" r="2.0" fill="#474747"/>
<ellipse cx="503.9" cy="714.9" rx="1.37" ry="1.80" fill="#929292" stroke="#484848" stroke-width="0.85"/>
<ellipse cx="508.0" cy="716.3" rx="2.14" ry="1.75" fill="#929292" stroke="#484848" stroke-width="0.85"/>
<ellipse cx="510.1" cy="714.2" rx="1.68" ry="1.53" fill="#929292" stroke="#484848" stroke-width="0.85"/>
<ellipse cx="519.0" cy="714.2" rx="1.54" ry="1.74" fill="#929292" stroke="#484848" stroke-width="0.85"/>
<ellipse cx="522.4" cy="712.9" rx="1.91" ry="1.74" fill="#929292" stroke="#484848" stroke-width="0.85"/>
<ellipse cx="521.1" cy="717.0" rx="1.73" ry="1.79" fill="#929292" stroke="#484848" stroke-width="0.85"/>
<ellipse cx="504.6" cy="719.1" rx="1.57" ry="1.96" fill="#929292" stroke="#484848" stroke-width="0.85"/>
<ellipse cx="507.3" cy="721.1" rx="2.08" ry="1.63" fill="#929292" stroke="#484848" stroke-width="0.85"/>
<ellipse cx="510.8" cy="723.2" rx="1.55" ry="1.96" fill="#929292" stroke="#484848" stroke-width="0.85"/>
<ellipse cx="549.9" cy="719.8" rx="1.76" ry="1.55" fill="#929292" stroke="#484848" stroke-width="0.85"/>
<ellipse cx="552.0" cy="722.5" rx="1.93" ry="1.54" fill="#929292" stroke="#484848" stroke-width="0.85"/>
<ellipse cx="546.5" cy="726.6" rx="1.81" ry="1.61" fill="#929292" stroke="#484848" stroke-width="0.85"/>
<ellipse cx="549.9" cy="727.3" rx="2.11" ry="1.62" fill="#929292" stroke="#484848" stroke-width="0.85"/>
<ellipse cx="554.8" cy="726.6" rx="1.64" ry="1.57" fill="#929292" stroke="#484848" stroke-width="0.85"/>
<circle cx="558.9" cy="727.3" r="2.0" fill="#474747"/>
<ellipse cx="576.8" cy="723.9" rx="1.53" ry="1.59" fill="#929292" stroke="#484848" stroke-width="0.85"/>
<ellipse cx="495.6" cy="728.0" rx="1.95" ry="1.86" fill="#929292" stroke="#484848" stroke-width="0.85"/>
<ellipse cx="501.8" cy="729.4" rx="1.59" ry="1.91" fill="#929292" stroke="#484848" stroke-width="0.85"/>
<ellipse cx="502.5" cy="732.1" rx="1.70" ry="1.72" fill="#929292" stroke="#484848" stroke-width="0.85"/>
<circle cx="549.9" cy="734.2" r="2.0" fill="#474747"/>
<ellipse cx="554.1" cy="734.2" rx="2.03" ry="1.82" fill="#929292" stroke="#484848" stroke-width="0.85"/>
<ellipse cx="559.6" cy="734.9" rx="1.84" ry="1.64" fill="#929292" stroke="#484848" stroke-width="0.85"/>
<ellipse cx="559.6" cy="738.3" rx="1.91" ry="1.45" fill="#929292" stroke="#484848" stroke-width="0.85"/>
<ellipse cx="508.7" cy="734.9" rx="1.94" ry="1.69" fill="#929292" stroke="#484848" stroke-width="0.85"/>
<ellipse cx="514.2" cy="736.2" rx="2.02" ry="1.76" fill="#929292" stroke="#484848" stroke-width="0.85"/>
<ellipse cx="517.6" cy="734.9" rx="1.66" ry="1.94" fill="#929292" stroke="#484848" stroke-width="0.85"/>
<circle cx="508.0" cy="738.3" r="2.0" fill="#474747"/>
<ellipse cx="488.1" cy="739.0" rx="1.77" ry="1.87" fill="#929292" stroke="#484848" stroke-width="0.85"/>
<ellipse cx="488.8" cy="741.8" rx="2.04" ry="1.57" fill="#929292" stroke="#484848" stroke-width="0.85"/>
<circle cx="481.2" cy="744.5" r="2.0" fill="#474747"/>
<ellipse cx="503.2" cy="743.1" rx="1.49" ry="1.98" fill="#929292" stroke="#484848" stroke-width="0.85"/>
<ellipse cx="570.6" cy="743.1" rx="2.01" ry="1.80" fill="#929292" stroke="#484848" stroke-width="0.85"/>
<circle cx="521.8" cy="659.2" r="0.9" fill="#5a5a5a"/>
<circle cx="519.0" cy="660.6" r="0.9" fill="#5a5a5a"/>
<circle cx="499.8" cy="655.1" r="0.9" fill="#5a5a5a"/>
<circle cx="563.0" cy="679.9" r="2.0" fill="#f0f0f0" stroke="#a8a8a8" stroke-width="0.8"/>
<circle cx="565.8" cy="677.1" r="2.0" fill="#f0f0f0" stroke="#a8a8a8" stroke-width="0.8"/>
<circle cx="545.1" cy="686.8" r="2.0" fill="#f0f0f0" stroke="#a8a8a8" stroke-width="0.8"/>
<circle cx="501.1" cy="678.5" r="2.0" fill="#f0f0f0" stroke="#a8a8a8" stroke-width="0.8"/>
</g>
<clipPath id="k3"><rect x="589.10" y="645.90" width="100.10" height="100.00"/></clipPath>
<g clip-path="url(#k3)" filter="url(#b3)">
<path d="M612.9 700.3l1.0 2.3M651.7 652.5l3.1 0.1M615.1 669.3l-2.2 0.0M672.8 693.5l-0.6 1.2M652.6 732.7l-0.2 2.8M656.3 652.3l-1.8 1.7M619.3 649.0l-2.0 0.9M661.1 733.8l-2.1 2.6M628.6 726.0l0.6 3.3M677.1 655.6l1.4 0.6M685.7 689.5l-0.7 1.6M639.9 684.5l1.1 2.2M647.6 736.3l-1.8 2.8M674.8 745.0l-0.7 1.2M675.2 742.4l-2.3 0.7M660.6 667.0l-2.1 1.2M617.6 652.2l-3.1 1.5M598.0 726.0l0.4 1.3M618.5 722.8l-1.0 0.4M650.6 650.4l-1.2 1.4M677.3 744.0l-0.1 3.5M620.1 653.6l-0.3 1.0M608.9 686.7l-0.5 1.3M593.3 732.7l1.9 2.8M678.9 683.7l0.3 2.3M653.6 705.5l-0.5 2.5M683.3 696.6l0.6 2.7M612.9 676.0l-2.3 0.2M644.0 647.0l0.6 2.4M591.1 707.5l-0.5 1.1M651.9 692.5l-1.0 1.6M659.9 719.7l1.1 0.1M656.8 742.2l1.5 1.5M648.4 677.9l0.7 1.6M626.1 705.5l1.1 1.6M666.4 648.6l-0.6 2.8M620.1 668.2l-1.3 0.9M607.9 689.4l-0.7 1.0M621.3 679.3l-1.8 1.0M674.7 662.8l1.3 2.3M677.7 691.0l1.0 0.8M642.1 665.0l-2.5 1.8M607.5 673.8l-2.1 1.5M669.8 680.4l1.6 0.7M668.6 673.0l0.9 1.8" stroke="#b4b4b4" stroke-width="0.7" fill="none" />
<ellipse cx="595.3" cy="648.9" rx="1.67" ry="1.75" fill="#929292" stroke="#484848" stroke-width="0.85"/>
<ellipse cx="598.1" cy="651.7" rx="1.82" ry="1.40" fill="#929292" stroke="#484848" stroke-width="0.85"/>
<ellipse cx="592.6" cy="654.4" rx="1.68" ry="2.17" fill="#929292" stroke="#484848" stroke-width="0.85"/>
<ellipse cx="591.2" cy="657.9" rx="2.13" ry="1.75" fill="#929292" stroke="#484848" stroke-width="0.85"/>
<circle cx="624.9" cy="656.5" r="2.0" fill="#474747"/>
<circle cx="629.0" cy="657.2" r="2.0" fill="#f0f0f0" stroke="#a8a8a8" stroke-width="0.8"/>
<ellipse cx="624.2" cy="662.0" rx="1.90" ry="1.96" fill="#929292" stroke="#484848" stroke-width="0.85"/>
<circle cx="627.6" cy="662.7" r="2.0" fill="#474747"/>
<ellipse cx="630.4" cy="664.1" rx="1.85" ry="1.43" fill="#929292" stroke="#484848" stroke-width="0.85"/>
<circle cx="629.0" cy="666.8" r="2.0" fill="#474747"/>
<ellipse cx="633.1" cy="668.2" rx="2.01" ry="1.76" fill="#929292" stroke="#484848" stroke-width="0.85"/>
<circle cx="605.6" cy="663.4" r="0.9" fill="#5a5a5a"/>
<circle cx="609.1" cy="666.1" r="0.9" fill="#5a5a5a"/>
<circle cx="613.9" cy="669.6" r="0.9" fill="#5a5a5a"/>
<circle cx="676.4" cy="659.2" r="2.0" fill="#474747"/>
<ellipse cx="679.9" cy="657.9" rx="1.84" ry="1.68" fill="#929292" stroke="#484848" stroke-width="0.85"/>
<ellipse cx="683.3" cy="660.6" rx="1.58" ry="1.79" fill="#929292" stroke="#484848" stroke-width="0.85"/>
<ellipse cx="674.4" cy="664.8" rx="1.44" ry="1.71" fill="#929292" stroke="#484848" stroke-width="0.85"/>
<ellipse cx="680.6" cy="668.9" rx="1.71" ry="1.62" fill="#929292" stroke="#484848" stroke-width="0.85"/>
<circle cx="684.0" cy="676.4" r="2.0" fill="#474747"/>
<ellipse cx="684.0" cy="679.2" rx="1.72" ry="1.41" fill="#929292" stroke="#484848" stroke-width="0.85"/>
<ellipse cx="594.6" cy="673.0" rx="2.03" ry="1.63" fill="#929292" stroke="#484848" stroke-width="0.85"/>
<ellipse cx="595.3" cy="677.1" rx="2.12" ry="1.70" fill="#929292" stroke="#484848" stroke-width="0.85"/>
<ellipse cx="607.0" cy="677.1" rx="1.98" ry="1.58" fill="#929292" stroke="#484848" stroke-width="0.85"/>
<ellipse cx="609.1" cy="679.9" rx="1.60" ry="2.09" fill="#929292" stroke="#484848" stroke-width="0.85"/>
<ellipse cx="616.6" cy="680.6" rx="1.51" ry="1.83" fill="#929292" stroke="#484848" stroke-width="0.85"/>
<ellipse cx="609.8" cy="684.7" rx="1.84" ry="1.68" fill="#929292" stroke="#484848" stroke-width="0.85"/>
<ellipse cx="598.1" cy="688.1" rx="1.88" ry="1.97" fill="#929292" stroke="#484848" stroke-width="0.85"/>
<circle cx="613.2" cy="690.2" r="2.0" fill="#f0f0f0" stroke="#a8a8a8" stroke-width="0.8"/>
<circle cx="655.8" cy="679.2" r="2.0" fill="#f0f0f0" stroke="#a8a8a8" stroke-width="0.8"/>
<circle cx="631.8" cy="685.4" r="0.9" fill="#5a5a5a"/>
<ellipse cx="644.8" cy="686.8" rx="1.74" ry="1.63" fill="#929292" stroke="#484848" stroke-width="0.85"/>
<ellipse cx="648.9" cy="688.1" rx="1.77" ry="2.02" fill="#929292" stroke="#484848" stroke-width="0.85"/>
<ellipse cx="661.3" cy="691.6" rx="1.85" ry="1.87" fill="#929292" stroke="#484848" stroke-width="0.85"/>
<ellipse cx="668.9" cy="687.4" rx="1.55" ry="1.70" fill="#929292" stroke="#484848" stroke-width="0.85"/>
<ellipse cx="590.5" cy="697.8" rx="1.89" ry="1.86" fill="#929292" stroke="#484848" stroke-width="0.85"/>
<ellipse cx="629.0" cy="695.7" rx="1.70" ry="2.03" fill="#929292" stroke="#484848" stroke-width="0.85"/>
<ellipse cx="642.1" cy="699.8" rx="2.08" ry="1.66" fill="#929292" stroke="#484848" stroke-width="0.85"/>
<ellipse cx="664.8" cy="697.1" rx="1.71" ry="1.39" fill="#929292" stroke="#484848" stroke-width="0.85"/>
<circle cx="671.6" cy="701.2" r="2.4" fill="#bcbcbc"/>
<ellipse cx="684.0" cy="703.2" rx="1.96" ry="1.83" fill="#929292" stroke="#484848" stroke-width="0.85"/>
<ellipse cx="628.3" cy="703.2" rx="1.43" ry="1.88" fill="#929292" stroke="#484848" stroke-width="0.85"/>
<ellipse cx="632.4" cy="705.3" rx="1.65" ry="1.88" fill="#929292" stroke="#484848" stroke-width="0.85"/>
<ellipse cx="629.7" cy="707.4" rx="1.70" ry="1.78" fill="#929292" stroke="#484848" stroke-width="0.85"/>
<ellipse cx="633.1" cy="708.1" rx="1.69" ry="1.41" fill="#929292" stroke="#484848" stroke-width="0.85"/>
<ellipse cx="625.6" cy="710.1" rx="1.38" ry="1.82" fill="#929292" stroke="#484848" stroke-width="0.85"/>
<ellipse cx="640.7" cy="707.4" rx="1.39" ry="1.77" fill="#929292" stroke="#484848" stroke-width="0.85"/>
<ellipse cx="644.1" cy="708.8" rx="2.13" ry="1.65" fill="#929292" stroke="#484848" stroke-width="0.85"/>
<ellipse cx="684.0" cy="708.8" rx="1.54" ry="1.96" fill="#929292" stroke="#484848" stroke-width="0.85"/>
<ellipse cx="677.8" cy="712.9" rx="1.58" ry="1.77" fill="#929292" stroke="#484848" stroke-width="0.85"/>
<ellipse cx="644.1" cy="712.9" rx="1.73" ry="1.88" fill="#929292" stroke="#484848" stroke-width="0.85"/>
<ellipse cx="646.9" cy="714.9" rx="1.74" ry="1.65" fill="#929292" stroke="#484848" stroke-width="0.85"/>
<ellipse cx="648.2" cy="717.7" rx="1.53" ry="1.84" fill="#929292" stroke="#484848" stroke-width="0.85"/>
<ellipse cx="642.8" cy="719.1" rx="1.58" ry="1.96" fill="#929292" stroke="#484848" stroke-width="0.85"/>
<circle cx="630.4" cy="716.3" r="2.0" fill="#474747"/>
<ellipse cx="631.1" cy="719.1" rx="1.81" ry="1.59" fill="#929292" stroke="#484848" stroke-width="0.85"/>
<ellipse cx="600.8" cy="715.6" rx="1.41" ry="1.83" fill="#929292" stroke="#484848" stroke-width="0.85"/>
<ellipse cx="595.3" cy="719.1" rx="1.73" ry="1.86" fill="#929292" stroke="#484848" stroke-width="0.85"/>
<ellipse cx="590.5" cy="717.7" rx="1.84" ry="1.56" fill="#929292" stroke="#484848" stroke-width="0.85"/>
<ellipse cx="661.3" cy="719.8" rx="1.95" ry="1.65" fill="#929292" stroke="#484848" stroke-width="0.85"/>
<ellipse cx="684.0" cy="721.1" rx="1.66" ry="1.73" fill="#929292" stroke="#484848" stroke-width="0.85"/>
<ellipse cx="683.3" cy="723.9" rx="1.83" ry="1.83" fill="#929292" stroke="#484848" stroke-width="0.85"/>
<ellipse cx="677.1" cy="723.2" rx="1.79" ry="1.87" fill="#929292" stroke="#484848" stroke-width="0.85"/>
<ellipse cx="675.1" cy="726.6" rx="1.63" ry="1.67" fill="#929292" stroke="#484848" stroke-width="0.85"/>
<ellipse cx="609.8" cy="722.5" rx="1.85" ry="1.81" fill="#929292" stroke="#484848" stroke-width="0.85"/>
<ellipse cx="606.3" cy="725.9" rx="1.51" ry="1.93" fill="#929292" stroke="#484848" stroke-width="0.85"/>
<ellipse cx="602.9" cy="726.6" rx="1.86" ry="1.94" fill="#929292" stroke="#484848" stroke-width="0.85"/>
<ellipse cx="610.4" cy="725.2" rx="1.92" ry="1.48" fill="#929292" stroke="#484848" stroke-width="0.85"/>
<ellipse cx="656.5" cy="725.9" rx="2.07" ry="1.67" fill="#929292" stroke="#484848" stroke-width="0.85"/>
<ellipse cx="660.6" cy="728.0" rx="1.62" ry="1.85" fill="#929292" stroke="#484848" stroke-width="0.85"/>
<ellipse cx="647.6" cy="728.0" rx="1.69" ry="2.06" fill="#929292" stroke="#484848" stroke-width="0.85"/>
<ellipse cx="645.5" cy="731.4" rx="1.99" ry="1.82" fill="#929292" stroke="#484848" stroke-width="0.85"/>
<ellipse cx="644.1" cy="734.2" rx="1.96" ry="1.67" fill="#929292" stroke="#484848" stroke-width="0.85"/>
<ellipse cx="663.4" cy="734.2" rx="1.89" ry="1.66" fill="#929292" stroke="#484848" stroke-width="0.85"/>
<ellipse cx="618.0" cy="730.1" rx="1.59" ry="1.98" fill="#929292" stroke="#484848" stroke-width="0.85"/>
<circle cx="616.6" cy="737.6" r="2.4" fill="#bcbcbc"/>
<circle cx="678.5" cy="737.6" r="2.0" fill="#474747"/>
<ellipse cx="687.4" cy="738.3" rx="1.36" ry="1.85" fill="#929292" stroke="#484848" stroke-width="0.85"/>
<ellipse cx="648.2" cy="740.4" rx="1.70" ry="1.43" fill="#929292" stroke="#484848" stroke-width="0.85"/>
<ellipse cx="651.0" cy="742.4" rx="1.39" ry="1.79" fill="#929292" stroke="#484848" stroke-width="0.85"/>
<ellipse cx="625.6" cy="743.1" rx="1.81" ry="1.43" fill="#929292" stroke="#484848" stroke-width="0.85"/>
<ellipse cx="607.7" cy="743.8" rx="1.65" ry="2.12" fill="#929292" stroke="#484848" stroke-width="0.85"/>
<circle cx="598.8" cy="739.0" r="2.0" fill="#f0f0f0" stroke="#a8a8a8" stroke-width="0.8"/>
<ellipse cx="594.6" cy="741.8" rx="1.70" ry="2.08" fill="#929292" stroke="#484848" stroke-width="0.85"/>
<circle cx="667.5" cy="719.8" r="2.0" fill="#f0f0f0" stroke="#a8a8a8" stroke-width="0.8"/>
<circle cx="619.4" cy="711.5" r="2.0" fill="#f0f0f0" stroke="#a8a8a8" stroke-width="0.8"/>
</g>
<clipPath id="k4"><rect x="699.50" y="645.90" width="100.50" height="100.00"/></clipPath>
<g clip-path="url(#k4)" filter="url(#b3)">
<path d="" stroke="#b4b4b4" stroke-width="0.7" fill="none" />
<ellipse cx="706.5" cy="646.9" rx="1.46" ry="1.72" fill="#929292" stroke="#484848" stroke-width="0.85"/>
<ellipse cx="719.6" cy="647.6" rx="1.56" ry="1.66" fill="#929292" stroke="#484848" stroke-width="0.85"/>
<ellipse cx="752.6" cy="648.9" rx="1.49" ry="1.93" fill="#929292" stroke="#484848" stroke-width="0.85"/>
<ellipse cx="760.1" cy="650.3" rx="2.08" ry="1.66" fill="#929292" stroke="#484848" stroke-width="0.85"/>
<ellipse cx="762.9" cy="652.4" rx="1.77" ry="1.51" fill="#929292" stroke="#484848" stroke-width="0.85"/>
<ellipse cx="767.0" cy="647.6" rx="1.68" ry="1.64" fill="#929292" stroke="#484848" stroke-width="0.85"/>
<ellipse cx="753.9" cy="653.8" rx="1.43" ry="1.76" fill="#929292" stroke="#484848" stroke-width="0.85"/>
<ellipse cx="783.5" cy="657.9" rx="1.78" ry="2.06" fill="#929292" stroke="#484848" stroke-width="0.85"/>
<ellipse cx="778.0" cy="654.4" rx="2.04" ry="1.71" fill="#929292" stroke="#484848" stroke-width="0.85"/>
<ellipse cx="745.0" cy="662.7" rx="1.78" ry="1.48" fill="#929292" stroke="#484848" stroke-width="0.85"/>
<ellipse cx="743.6" cy="667.5" rx="1.71" ry="1.90" fill="#929292" stroke="#484848" stroke-width="0.85"/>
<ellipse cx="718.9" cy="672.3" rx="2.01" ry="1.78" fill="#929292" stroke="#484848" stroke-width="0.85"/>
<ellipse cx="715.4" cy="675.8" rx="1.77" ry="1.39" fill="#929292" stroke="#484848" stroke-width="0.85"/>
<ellipse cx="711.3" cy="676.4" rx="1.87" ry="1.77" fill="#929292" stroke="#484848" stroke-width="0.85"/>
<ellipse cx="738.8" cy="676.4" rx="1.62" ry="1.62" fill="#929292" stroke="#484848" stroke-width="0.85"/>
<circle cx="739.5" cy="679.9" r="0.9" fill="#5a5a5a"/>
<circle cx="749.1" cy="675.8" r="2.0" fill="#474747"/>
<circle cx="754.6" cy="674.4" r="0.9" fill="#5a5a5a"/>
<circle cx="752.6" cy="677.8" r="0.9" fill="#5a5a5a"/>
<ellipse cx="731.9" cy="684.0" rx="1.57" ry="1.60" fill="#929292" stroke="#484848" stroke-width="0.85"/>
<ellipse cx="726.4" cy="686.8" rx="2.11" ry="1.68" fill="#929292" stroke="#484848" stroke-width="0.85"/>
<ellipse cx="723.0" cy="685.4" rx="1.69" ry="1.65" fill="#929292" stroke="#484848" stroke-width="0.85"/>
<ellipse cx="734.0" cy="690.2" rx="1.98" ry="1.57" fill="#929292" stroke="#484848" stroke-width="0.85"/>
<ellipse cx="738.1" cy="693.6" rx="2.08" ry="1.70" fill="#929292" stroke="#484848" stroke-width="0.85"/>
<circle cx="744.3" cy="695.0" r="2.0" fill="#474747"/>
<ellipse cx="737.4" cy="696.4" rx="1.72" ry="1.71" fill="#929292" stroke="#484848" stroke-width="0.85"/>
<ellipse cx="738.8" cy="699.8" rx="1.77" ry="1.67" fill="#929292" stroke="#484848" stroke-width="0.85"/>
<ellipse cx="742.9" cy="700.5" rx="1.50" ry="1.84" fill="#929292" stroke="#484848" stroke-width="0.85"/>
<ellipse cx="749.1" cy="702.6" rx="1.72" ry="1.41" fill="#929292" stroke="#484848" stroke-width="0.85"/>
<ellipse cx="725.1" cy="702.6" rx="1.57" ry="2.03" fill="#929292" stroke="#484848" stroke-width="0.85"/>
<ellipse cx="756.7" cy="697.1" rx="1.65" ry="1.87" fill="#929292" stroke="#484848" stroke-width="0.85"/>
<circle cx="769.8" cy="699.1" r="2.0" fill="#474747"/>
<ellipse cx="772.5" cy="701.2" rx="1.67" ry="1.70" fill="#929292" stroke="#484848" stroke-width="0.85"/>
<ellipse cx="773.2" cy="707.4" rx="1.88" ry="1.38" fill="#929292" stroke="#484848" stroke-width="0.85"/>
<ellipse cx="776.6" cy="708.8" rx="1.59" ry="1.67" fill="#929292" stroke="#484848" stroke-width="0.85"/>
<ellipse cx="771.8" cy="711.5" rx="1.73" ry="1.59" fill="#929292" stroke="#484848" stroke-width="0.85"/>
<ellipse cx="775.2" cy="714.9" rx="1.78" ry="1.92" fill="#929292" stroke="#484848" stroke-width="0.85"/>
<ellipse cx="782.8" cy="712.9" rx="1.68" ry="1.86" fill="#929292" stroke="#484848" stroke-width="0.85"/>
<ellipse cx="786.2" cy="711.5" rx="1.79" ry="1.39" fill="#929292" stroke="#484848" stroke-width="0.85"/>
<ellipse cx="791.8" cy="703.9" rx="1.42" ry="1.86" fill="#929292" stroke="#484848" stroke-width="0.85"/>
<ellipse cx="795.9" cy="710.8" rx="1.93" ry="1.66" fill="#929292" stroke="#484848" stroke-width="0.85"/>
<ellipse cx="792.4" cy="716.3" rx="1.55" ry="1.81" fill="#929292" stroke="#484848" stroke-width="0.85"/>
<ellipse cx="779.4" cy="719.8" rx="1.57" ry="1.89" fill="#929292" stroke="#484848" stroke-width="0.85"/>
<ellipse cx="788.3" cy="722.5" rx="1.60" ry="2.06" fill="#929292" stroke="#484848" stroke-width="0.85"/>
<ellipse cx="707.2" cy="710.1" rx="2.13" ry="1.73" fill="#929292" stroke="#484848" stroke-width="0.85"/>
<ellipse cx="727.1" cy="714.9" rx="2.05" ry="1.82" fill="#929292" stroke="#484848" stroke-width="0.85"/>
<ellipse cx="756.7" cy="713.6" rx="1.42" ry="1.91" fill="#929292" stroke="#484848" stroke-width="0.85"/>
<ellipse cx="758.8" cy="717.7" rx="2.09" ry="1.63" fill="#929292" stroke="#484848" stroke-width="0.85"/>
<circle cx="704.4" cy="721.1" r="2.0" fill="#474747"/>
<ellipse cx="707.9" cy="723.2" rx="1.88" ry="1.97" fill="#929292" stroke="#484848" stroke-width="0.85"/>
<ellipse cx="714.8" cy="722.5" rx="1.94" ry="1.82" fill="#929292" stroke="#484848" stroke-width="0.85"/>
<ellipse cx="715.4" cy="726.6" rx="1.52" ry="1.73" fill="#929292" stroke="#484848" stroke-width="0.85"/>
<ellipse cx="708.6" cy="728.0" rx="1.58" ry="1.63" fill="#929292" stroke="#484848" stroke-width="0.85"/>
<ellipse cx="701.7" cy="725.9" rx="1.88" ry="1.99" fill="#929292" stroke="#484848" stroke-width="0.85"/>
<ellipse cx="749.1" cy="723.9" rx="1.47" ry="1.64" fill="#929292" stroke="#484848" stroke-width="0.85"/>
<ellipse cx="746.4" cy="726.6" rx="1.39" ry="1.85" fill="#929292" stroke="#484848" stroke-width="0.85"/>
<ellipse cx="758.8" cy="729.4" rx="1.84" ry="1.55" fill="#929292" stroke="#484848" stroke-width="0.85"/>
<ellipse cx="771.1" cy="728.7" rx="1.48" ry="1.69" fill="#929292" stroke="#484848" stroke-width="0.85"/>
<ellipse cx="784.9" cy="730.1" rx="1.96" ry="1.48" fill="#929292" stroke="#484848" stroke-width="0.85"/>
<ellipse cx="707.9" cy="734.9" rx="1.43" ry="1.72" fill="#929292" stroke="#484848" stroke-width="0.85"/>
<ellipse cx="739.5" cy="736.2" rx="1.40" ry="1.84" fill="#929292" stroke="#484848" stroke-width="0.85"/>
<ellipse cx="738.8" cy="739.0" rx="1.70" ry="1.52" fill="#929292" stroke="#484848" stroke-width="0.85"/>
<ellipse cx="727.8" cy="741.1" rx="1.52" ry="1.98" fill="#929292" stroke="#484848" stroke-width="0.85"/>
<ellipse cx="758.1" cy="742.4" rx="1.82" ry="2.07" fill="#929292" stroke="#484848" stroke-width="0.85"/>
<ellipse cx="771.1" cy="739.0" rx="1.57" ry="1.95" fill="#929292" stroke="#484848" stroke-width="0.85"/>
<ellipse cx="786.2" cy="741.8" rx="1.85" ry="1.58" fill="#929292" stroke="#484848" stroke-width="0.85"/>
</g>
<text x="418.90" y="499.33" font-size="12.6" text-anchor="middle" stroke="#000">NC</text>
<text x="528.10" y="499.00" font-size="12.8" text-anchor="middle" stroke="#000">si <tspan font-style="italic">PPARA</tspan></text>
<text x="639.10" y="498.70" font-size="12.8" text-anchor="middle" stroke="#000">si <tspan font-style="italic">PPARD</tspan></text>
<text x="749.10" y="498.70" font-size="12.8" text-anchor="middle" stroke="#000">si <tspan font-style="italic">PPARG</tspan></text>
<text x="418.90" y="634.40" font-size="12.8" text-anchor="middle" stroke="#000">NC + Soto</text>
<text x="528.10" y="634.40" font-size="12.8" text-anchor="middle" stroke="#000">si <tspan font-style="italic">PPARA</tspan> + Soto</text>
<text x="639.50" y="634.40" font-size="12.8" text-anchor="middle" stroke="#000">si <tspan font-style="italic">PPARD</tspan> + Soto</text>
<text x="748.50" y="634.40" font-size="12.8" text-anchor="middle" stroke="#000">si <tspan font-style="italic">PPARG</tspan> + Soto</text>
<text x="372.30" y="600.20" font-size="10.2" stroke="#000" textLength="36.40" lengthAdjust="spacingAndGlyphs">100 μm</text>
<line x1="375.00" y1="603.80" x2="396.50" y2="603.80" stroke="#000" stroke-width="1.3" />
</g>
<g id="panelG">
<rect x="132.50" y="899.00" width="24.30" height="9.30" fill="#f9b3ac" />
<path d="M144.65 899.30V894.30M138.45 894.30H150.85" stroke="#000" stroke-width="1.4" fill="none" />
<rect x="169.00" y="800.40" width="24.00" height="107.90" fill="#e34a33" />
<path d="M181.00 800.70V798.00M174.80 798.00H187.20" stroke="#000" stroke-width="1.4" fill="none" />
<rect x="205.00" y="896.50" width="24.30" height="11.80" fill="#a7cbe0" />
<path d="M217.15 896.80V895.80M210.95 895.80H223.35" stroke="#000" stroke-width="1.4" fill="none" />
<rect x="241.80" y="866.30" width="24.00" height="42.00" fill="#6b97cf" />
<path d="M253.80 866.60V859.50M247.60 859.50H260.00" stroke="#000" stroke-width="1.4" fill="none" />
<rect x="278.00" y="900.00" width="24.00" height="8.30" fill="#cfe2c8" />
<path d="M290.00 900.30V895.50M283.80 895.50H296.20" stroke="#000" stroke-width="1.4" fill="none" />
<rect x="314.50" y="865.00" width="24.30" height="43.30" fill="#98b89a" />
<path d="M326.65 865.30V855.80M320.45 855.80H332.85" stroke="#000" stroke-width="1.4" fill="none" />
<path d="M120.8 781.80V908.3H353.3" stroke="#000" stroke-width="1.55" fill="none" />
<line x1="113.40" y1="908.30" x2="120.80" y2="908.30" stroke="#000" stroke-width="1.3" />
<text x="110.90" y="912.12" font-size="10.8" text-anchor="end" stroke="#000">0</text>
<line x1="113.40" y1="883.14" x2="120.80" y2="883.14" stroke="#000" stroke-width="1.3" />
<text x="110.90" y="886.96" font-size="10.8" text-anchor="end" stroke="#000">10</text>
<line x1="113.40" y1="857.98" x2="120.80" y2="857.98" stroke="#000" stroke-width="1.3" />
<text x="110.90" y="861.80" font-size="10.8" text-anchor="end" stroke="#000">20</text>
<line x1="113.40" y1="832.82" x2="120.80" y2="832.82" stroke="#000" stroke-width="1.3" />
<text x="110.90" y="836.64" font-size="10.8" text-anchor="end" stroke="#000">30</text>
<line x1="113.40" y1="807.66" x2="120.80" y2="807.66" stroke="#000" stroke-width="1.3" />
<text x="110.90" y="811.48" font-size="10.8" text-anchor="end" stroke="#000">40</text>
<line x1="113.40" y1="782.50" x2="120.80" y2="782.50" stroke="#000" stroke-width="1.3" />
<text x="110.90" y="786.32" font-size="10.8" text-anchor="end" stroke="#000">50</text>
<line x1="144.65" y1="908.30" x2="144.65" y2="914.90" stroke="#000" stroke-width="1.3" />
<line x1="181.00" y1="908.30" x2="181.00" y2="914.90" stroke="#000" stroke-width="1.3" />
<line x1="217.15" y1="908.30" x2="217.15" y2="914.90" stroke="#000" stroke-width="1.3" />
<line x1="253.80" y1="908.30" x2="253.80" y2="914.90" stroke="#000" stroke-width="1.3" />
<line x1="290.00" y1="908.30" x2="290.00" y2="914.90" stroke="#000" stroke-width="1.3" />
<line x1="326.65" y1="908.30" x2="326.65" y2="914.90" stroke="#000" stroke-width="1.3" />
<text x="89.20" y="843.80" font-size="13.5" text-anchor="middle" stroke="#000" transform="rotate(-90 89.20 843.80)" textLength="117.50" lengthAdjust="spacingAndGlyphs">Apoptosis Rate (%)</text>
<path d="M144.70 890.00V788.90H180.90V797.60" stroke="#000" stroke-width="1.25" fill="none" stroke-linejoin="miter"/>
<path d="M180.90 797.60V788.90H253.80V853.80" stroke="#000" stroke-width="1.25" fill="none" stroke-linejoin="miter"/>
<path d="M180.90 778.90V770.10H326.70V852.00" stroke="#000" stroke-width="1.25" fill="none" stroke-linejoin="miter"/>
<path d="M154.30 775.80L154.30 783.40M151.01 777.70L157.59 781.50M157.59 777.70L151.01 781.50" stroke="#000" stroke-width="1.5" fill="none" />
<path d="M163.60 775.80L163.60 783.40M160.31 777.70L166.89 781.50M166.89 777.70L160.31 781.50" stroke="#000" stroke-width="1.5" fill="none" />
<path d="M172.90 775.80L172.90 783.40M169.61 777.70L176.19 781.50M176.19 777.70L169.61 781.50" stroke="#000" stroke-width="1.5" fill="none" />
<path d="M211.20 775.80L211.20 783.40M207.91 777.70L214.49 781.50M214.49 777.70L207.91 781.50" stroke="#000" stroke-width="1.5" fill="none" />
<path d="M220.50 775.80L220.50 783.40M217.21 777.70L223.79 781.50M223.79 777.70L217.21 781.50" stroke="#000" stroke-width="1.5" fill="none" />
<path d="M229.80 775.80L229.80 783.40M226.51 777.70L233.09 781.50M233.09 777.70L226.51 781.50" stroke="#000" stroke-width="1.5" fill="none" />
<path d="M245.00 757.10L245.00 764.70M241.71 759.00L248.29 762.80M248.29 759.00L241.71 762.80" stroke="#000" stroke-width="1.5" fill="none" />
<path d="M254.30 757.10L254.30 764.70M251.01 759.00L257.59 762.80M257.59 759.00L251.01 762.80" stroke="#000" stroke-width="1.5" fill="none" />
<path d="M263.60 757.10L263.60 764.70M260.31 759.00L266.89 762.80M266.89 759.00L260.31 762.80" stroke="#000" stroke-width="1.5" fill="none" />
<text x="108.60" y="929.05" font-size="10.6" stroke="#000" textLength="23.40" lengthAdjust="spacingAndGlyphs">Soto</text>
<text x="97.70" y="946.35" font-size="10.6" stroke="#000" textLength="34.30" lengthAdjust="spacingAndGlyphs">si RNA</text>
<text x="144.65" y="928.85" font-size="10.6" text-anchor="middle" stroke="#000">-</text>
<text x="181.00" y="928.85" font-size="10.6" text-anchor="middle" stroke="#000">+</text>
<text x="217.15" y="928.85" font-size="10.6" text-anchor="middle" stroke="#000">-</text>
<text x="253.80" y="928.85" font-size="10.6" text-anchor="middle" stroke="#000">+</text>
<text x="290.00" y="928.85" font-size="10.6" text-anchor="middle" stroke="#000">-</text>
<text x="326.65" y="928.85" font-size="10.6" text-anchor="middle" stroke="#000">+</text>
<line x1="139.00" y1="934.40" x2="191.50" y2="934.40" stroke="#000" stroke-width="1.2" />
<line x1="209.00" y1="934.40" x2="262.50" y2="934.40" stroke="#000" stroke-width="1.2" />
<line x1="282.50" y1="934.40" x2="336.00" y2="934.40" stroke="#000" stroke-width="1.2" />
<text x="166.30" y="948.05" font-size="10.6" text-anchor="middle" stroke="#000">NC</text>
<text x="235.30" y="947.65" font-size="10.6" text-anchor="middle" stroke="#000"><tspan font-style="italic">PPARG</tspan> #1</text>
<text x="309.80" y="947.65" font-size="10.6" text-anchor="middle" stroke="#000"><tspan font-style="italic">PPARG</tspan> #2</text>
</g>
<g id="panelF">
<rect x="471.90" y="819.40" width="23.70" height="105.00" fill="#f9b3ac" />
<path d="M483.75 819.70V813.30M477.75 813.30H489.75" stroke="#000" stroke-width="1.4" fill="none" />
<rect x="508.10" y="907.70" width="23.20" height="16.70" fill="#e34a33" />
<path d="M519.70 908.00V906.70M513.70 906.70H525.70" stroke="#000" stroke-width="1.4" fill="none" />
<rect x="543.80" y="818.80" width="23.50" height="105.60" fill="#f5dcb5" />
<path d="M555.55 819.10V816.50M549.55 816.50H561.55" stroke="#000" stroke-width="1.4" fill="none" />
<rect x="579.00" y="906.40" width="23.60" height="18.00" fill="#e7b25c" />
<path d="M590.80 906.70V904.30M584.80 904.30H596.80" stroke="#000" stroke-width="1.4" fill="none" />
<rect x="615.00" y="820.60" width="23.60" height="103.80" fill="#f5dcb5" />
<path d="M626.80 820.90V815.60M620.80 815.60H632.80" stroke="#000" stroke-width="1.4" fill="none" />
<rect x="650.90" y="903.80" width="23.10" height="20.60" fill="#e7b25c" />
<path d="M662.45 904.10V900.60M656.45 900.60H668.45" stroke="#000" stroke-width="1.4" fill="none" />
<rect x="686.30" y="816.90" width="23.70" height="107.50" fill="#a7cbe0" />
<path d="M698.15 817.20V815.90M692.15 815.90H704.15" stroke="#000" stroke-width="1.4" fill="none" />
<rect x="722.00" y="854.70" width="23.60" height="69.70" fill="#6b97cf" />
<path d="M733.80 855.00V849.50M727.80 849.50H739.80" stroke="#000" stroke-width="1.4" fill="none" />
<path d="M460.3 765.50V924.4H762" stroke="#000" stroke-width="1.55" fill="none" />
<line x1="451.30" y1="924.40" x2="460.30" y2="924.40" stroke="#000" stroke-width="1.35" />
<text x="448.60" y="928.64" font-size="13.2" text-anchor="end" stroke="#000">0</text>
<line x1="451.30" y1="871.67" x2="460.30" y2="871.67" stroke="#000" stroke-width="1.35" />
<text x="448.60" y="875.91" font-size="13.2" text-anchor="end" stroke="#000">50</text>
<line x1="451.30" y1="818.93" x2="460.30" y2="818.93" stroke="#000" stroke-width="1.35" />
<text x="448.60" y="823.17" font-size="13.2" text-anchor="end" stroke="#000">100</text>
<line x1="451.30" y1="766.20" x2="460.30" y2="766.20" stroke="#000" stroke-width="1.35" />
<text x="448.60" y="770.44" font-size="13.2" text-anchor="end" stroke="#000">150</text>
<line x1="483.75" y1="924.40" x2="483.75" y2="932.20" stroke="#000" stroke-width="1.35" />
<line x1="519.70" y1="924.40" x2="519.70" y2="932.20" stroke="#000" stroke-width="1.35" />
<line x1="555.55" y1="924.40" x2="555.55" y2="932.20" stroke="#000" stroke-width="1.35" />
<line x1="590.80" y1="924.40" x2="590.80" y2="932.20" stroke="#000" stroke-width="1.35" />
<line x1="626.80" y1="924.40" x2="626.80" y2="932.20" stroke="#000" stroke-width="1.35" />
<line x1="662.45" y1="924.40" x2="662.45" y2="932.20" stroke="#000" stroke-width="1.35" />
<line x1="698.15" y1="924.40" x2="698.15" y2="932.20" stroke="#000" stroke-width="1.35" />
<line x1="733.80" y1="924.40" x2="733.80" y2="932.20" stroke="#000" stroke-width="1.35" />
<text x="420.60" y="851.30" font-size="13.6" text-anchor="middle" stroke="#000" transform="rotate(-90 420.60 851.30)" textLength="123.40" lengthAdjust="spacingAndGlyphs">Survival Fraction(%)</text>
<path d="M483.80 809.40V795.00H519.40V903.80" stroke="#000" stroke-width="1.35" fill="none" stroke-linejoin="miter"/>
<path d="M519.40 786.30V770.90H733.80V840.00" stroke="#000" stroke-width="1.35" fill="none" stroke-linejoin="miter"/>
<path d="M491.70 780.60L491.70 788.20M488.41 782.50L494.99 786.30M494.99 782.50L488.41 786.30" stroke="#000" stroke-width="1.5" fill="none" />
<path d="M501.90 780.60L501.90 788.20M498.61 782.50L505.19 786.30M505.19 782.50L498.61 786.30" stroke="#000" stroke-width="1.5" fill="none" />
<path d="M512.10 780.60L512.10 788.20M508.81 782.50L515.39 786.30M515.39 782.50L508.81 786.30" stroke="#000" stroke-width="1.5" fill="none" />
<path d="M618.20 756.40L618.20 764.00M614.91 758.30L621.49 762.10M621.49 758.30L614.91 762.10" stroke="#000" stroke-width="1.5" fill="none" />
<path d="M628.00 756.40L628.00 764.00M624.71 758.30L631.29 762.10M631.29 758.30L624.71 762.10" stroke="#000" stroke-width="1.5" fill="none" />
<path d="M637.80 756.40L637.80 764.00M634.51 758.30L641.09 762.10M641.09 758.30L634.51 762.10" stroke="#000" stroke-width="1.5" fill="none" />
<text x="590.80" y="900.94" font-size="13.2" text-anchor="middle" stroke="#000">ns</text>
<text x="662.30" y="896.94" font-size="13.2" text-anchor="middle" stroke="#000">ns</text>
</g>
<g id="panelI">
<rect x="472.70" y="1109.00" width="24.10" height="5.50" fill="#f9b3ac" />
<path d="M484.75 1109.30V1107.40M478.75 1107.40H490.75" stroke="#000" stroke-width="1.4" fill="none" />
<rect x="508.90" y="1014.80" width="23.60" height="99.70" fill="#e34a33" />
<path d="M520.70 1015.10V991.70M514.70 991.70H526.70" stroke="#000" stroke-width="1.4" fill="none" />
<rect x="544.90" y="1111.10" width="23.60" height="3.40" fill="#f5dcb5" />
<path d="M556.70 1111.40V1110.00M550.70 1110.00H562.70" stroke="#000" stroke-width="1.4" fill="none" />
<rect x="580.30" y="991.20" width="23.30" height="123.30" fill="#e7b25c" />
<path d="M591.95 991.50V983.30M585.95 983.30H597.95" stroke="#000" stroke-width="1.4" fill="none" />
<rect x="616.20" y="1105.00" width="23.70" height="9.50" fill="#f5dcb5" />
<path d="M628.05 1105.30V1103.20M622.05 1103.20H634.05" stroke="#000" stroke-width="1.4" fill="none" />
<rect x="652.20" y="985.90" width="23.60" height="128.60" fill="#e7b25c" />
<path d="M664.00 986.20V975.40M658.00 975.40H670.00" stroke="#000" stroke-width="1.4" fill="none" />
<rect x="687.60" y="1109.80" width="23.70" height="4.70" fill="#a7cbe0" />
<path d="M699.45 1110.10V1106.40M693.45 1106.40H705.45" stroke="#000" stroke-width="1.4" fill="none" />
<rect x="723.30" y="1098.80" width="23.70" height="15.70" fill="#6b97cf" />
<path d="M735.15 1099.10V1092.70M729.15 1092.70H741.15" stroke="#000" stroke-width="1.4" fill="none" />
<path d="M461.2 952.20V1114.5H762" stroke="#000" stroke-width="1.55" fill="none" />
<line x1="452.20" y1="1114.50" x2="461.20" y2="1114.50" stroke="#000" stroke-width="1.35" />
<text x="449.80" y="1118.44" font-size="13.2" text-anchor="end" stroke="#000">0.0</text>
<line x1="452.20" y1="1060.63" x2="461.20" y2="1060.63" stroke="#000" stroke-width="1.35" />
<text x="449.80" y="1064.57" font-size="13.2" text-anchor="end" stroke="#000">0.5</text>
<line x1="452.20" y1="1006.77" x2="461.20" y2="1006.77" stroke="#000" stroke-width="1.35" />
<text x="449.80" y="1010.71" font-size="13.2" text-anchor="end" stroke="#000">1.0</text>
<line x1="452.20" y1="952.90" x2="461.20" y2="952.90" stroke="#000" stroke-width="1.35" />
<text x="449.80" y="956.84" font-size="13.2" text-anchor="end" stroke="#000">1.5</text>
<line x1="484.75" y1="1114.50" x2="484.75" y2="1122.70" stroke="#000" stroke-width="1.35" />
<line x1="520.70" y1="1114.50" x2="520.70" y2="1122.70" stroke="#000" stroke-width="1.35" />
<line x1="556.70" y1="1114.50" x2="556.70" y2="1122.70" stroke="#000" stroke-width="1.35" />
<line x1="591.95" y1="1114.50" x2="591.95" y2="1122.70" stroke="#000" stroke-width="1.35" />
<line x1="628.05" y1="1114.50" x2="628.05" y2="1122.70" stroke="#000" stroke-width="1.35" />
<line x1="664.00" y1="1114.50" x2="664.00" y2="1122.70" stroke="#000" stroke-width="1.35" />
<line x1="699.45" y1="1114.50" x2="699.45" y2="1122.70" stroke="#000" stroke-width="1.35" />
<line x1="735.15" y1="1114.50" x2="735.15" y2="1122.70" stroke="#000" stroke-width="1.35" />
<text x="412.60" y="1034.30" font-size="13.8" text-anchor="middle" stroke="#000" transform="rotate(-90 412.60 1034.30)" textLength="137.80" lengthAdjust="spacingAndGlyphs">Relative protein levels</text>
<text x="430.20" y="1034.30" font-size="13.8" text-anchor="middle" stroke="#000" transform="rotate(-90 430.20 1034.30)" textLength="111.50" lengthAdjust="spacingAndGlyphs">c-PARP / GAPDH</text>
<path d="M484.60 1105.90V981.70H520.50V990.50" stroke="#000" stroke-width="1.35" fill="none" stroke-linejoin="miter"/>
<path d="M520.50 973.30V957.00H735.10V1084.90" stroke="#000" stroke-width="1.35" fill="none" stroke-linejoin="miter"/>
<path d="M493.50 967.80L493.50 974.60M490.56 969.50L496.44 972.90M496.44 969.50L490.56 972.90" stroke="#000" stroke-width="1.4" fill="none" />
<path d="M502.10 967.80L502.10 974.60M499.16 969.50L505.04 972.90M505.04 969.50L499.16 972.90" stroke="#000" stroke-width="1.4" fill="none" />
<path d="M510.70 967.80L510.70 974.60M507.76 969.50L513.64 972.90M513.64 969.50L507.76 972.90" stroke="#000" stroke-width="1.4" fill="none" />
<path d="M617.80 943.30L617.80 950.90M614.51 945.20L621.09 949.00M621.09 945.20L614.51 949.00" stroke="#000" stroke-width="1.5" fill="none" />
<path d="M627.50 943.30L627.50 950.90M624.21 945.20L630.79 949.00M630.79 945.20L624.21 949.00" stroke="#000" stroke-width="1.5" fill="none" />
<path d="M637.20 943.30L637.20 950.90M633.91 945.20L640.49 949.00M640.49 945.20L633.91 949.00" stroke="#000" stroke-width="1.5" fill="none" />
<text x="592.10" y="977.74" font-size="13.2" text-anchor="middle" stroke="#000">ns</text>
<text x="662.20" y="971.94" font-size="13.2" text-anchor="middle" stroke="#000">ns</text>
<text x="438.00" y="1136.21" font-size="13.4" stroke="#000" textLength="28.60" lengthAdjust="spacingAndGlyphs">Soto</text>
<text x="426.00" y="1157.21" font-size="13.4" stroke="#000" textLength="42.70" lengthAdjust="spacingAndGlyphs">si RNA</text>
<text x="484.75" y="1135.67" font-size="13.0" text-anchor="middle" stroke="#000">-</text>
<text x="520.70" y="1135.67" font-size="13.0" text-anchor="middle" stroke="#000">+</text>
<text x="556.70" y="1135.67" font-size="13.0" text-anchor="middle" stroke="#000">-</text>
<text x="591.95" y="1135.67" font-size="13.0" text-anchor="middle" stroke="#000">+</text>
<text x="628.05" y="1135.67" font-size="13.0" text-anchor="middle" stroke="#000">-</text>
<text x="664.00" y="1135.67" font-size="13.0" text-anchor="middle" stroke="#000">+</text>
<text x="699.45" y="1135.67" font-size="13.0" text-anchor="middle" stroke="#000">-</text>
<text x="735.15" y="1135.67" font-size="13.0" text-anchor="middle" stroke="#000">+</text>
<line x1="479.80" y1="1141.20" x2="525.20" y2="1141.20" stroke="#000" stroke-width="1.3" />
<line x1="551.40" y1="1141.20" x2="597.90" y2="1141.20" stroke="#000" stroke-width="1.3" />
<line x1="624.10" y1="1141.20" x2="670.00" y2="1141.20" stroke="#000" stroke-width="1.3" />
<line x1="695.00" y1="1141.20" x2="740.90" y2="1141.20" stroke="#000" stroke-width="1.3" />
<text x="503.40" y="1157.81" font-size="13.4" text-anchor="middle" stroke="#000">NC</text>
<text x="574.60" y="1157.81" font-size="13.4" text-anchor="middle" font-style="italic" stroke="#000">PPARA</text>
<text x="645.90" y="1157.81" font-size="13.4" text-anchor="middle" font-style="italic" stroke="#000">PPARD</text>
<text x="719.40" y="1157.81" font-size="13.4" text-anchor="middle" font-style="italic" stroke="#000">PPARG</text>
</g>
<g id="panelH">
<text x="231.20" y="999.87" font-size="15.9" text-anchor="middle" stroke="#000" textLength="70.50" lengthAdjust="spacingAndGlyphs">BEAS-2B</text>
<line x1="118.80" y1="1007.50" x2="341.80" y2="1007.50" stroke="#000" stroke-width="1.1" />
<text x="107.60" y="1025.07" font-size="15.9" text-anchor="end" stroke="#000" textLength="46.80" lengthAdjust="spacingAndGlyphs">siRNA</text>
<text x="107.60" y="1052.27" font-size="15.9" text-anchor="end" stroke="#000" textLength="33.30" lengthAdjust="spacingAndGlyphs">Soto</text>
<text x="107.60" y="1081.07" font-size="15.9" text-anchor="end" stroke="#000" textLength="58.50" lengthAdjust="spacingAndGlyphs">c-PARP</text>
<text x="108.20" y="1116.87" font-size="15.9" text-anchor="end" stroke="#000" textLength="58.70" lengthAdjust="spacingAndGlyphs">GAPDH</text>
<text x="145.80" y="1023.32" font-size="11.4" text-anchor="middle" stroke="#000">NC</text>
<text x="203.50" y="1023.32" font-size="11.4" text-anchor="middle" font-style="italic" stroke="#000">PPARA</text>
<text x="262.50" y="1023.32" font-size="11.4" text-anchor="middle" font-style="italic" stroke="#000">PPARD</text>
<text x="320.00" y="1023.32" font-size="11.4" text-anchor="middle" font-style="italic" fill="#cf2127" stroke="#cf2127">PPARG</text>
<line x1="124.40" y1="1030.60" x2="168.70" y2="1030.60" stroke="#000" stroke-width="1.1" />
<line x1="181.30" y1="1030.60" x2="225.90" y2="1030.60" stroke="#000" stroke-width="1.1" />
<line x1="240.50" y1="1030.60" x2="285.00" y2="1030.60" stroke="#000" stroke-width="1.1" />
<line x1="296.30" y1="1030.60" x2="341.30" y2="1030.60" stroke="#000" stroke-width="1.1" />
<line x1="129.00" y1="1046.80" x2="132.40" y2="1046.80" stroke="#000" stroke-width="1.2" />
<path d="M153.8 1046.6H160.2M157.0 1043.4V1049.8" stroke="#000" stroke-width="1.2" fill="none" />
<line x1="186.80" y1="1046.80" x2="190.20" y2="1046.80" stroke="#000" stroke-width="1.2" />
<path d="M211.6 1046.6H218.0M214.8 1043.4V1049.8" stroke="#000" stroke-width="1.2" fill="none" />
<line x1="247.80" y1="1046.80" x2="251.20" y2="1046.80" stroke="#000" stroke-width="1.2" />
<path d="M272.2 1046.6H278.6M275.4 1043.4V1049.8" stroke="#000" stroke-width="1.2" fill="none" />
<line x1="302.90" y1="1046.80" x2="306.30" y2="1046.80" stroke="#000" stroke-width="1.2" />
<path d="M327.8 1046.6H334.2M331.0 1043.4V1049.8" stroke="#000" stroke-width="1.2" fill="none" />
<rect x="114.80" y="1059.80" width="239.90" height="30.30" fill="#ececec" />
<rect x="114.8" y="1059.8" width="239.9" height="30.3" fill="#fff" filter="url(#tn)" opacity="0.5"/>
<g filter="url(#b1)">
<path d="M148.5 1077.0Q160.5 1073.4 172.5 1077.0" stroke="#7c7c7c" stroke-width="3.6" fill="none" stroke-linecap="round"/>
<path d="M203.5 1077.6Q217.8 1067.6 232.0 1077.6" stroke="#2e2e2e" stroke-width="4.2" fill="none" stroke-linecap="round"/>
<path d="M263.0 1077.4Q276.2 1069.8 289.5 1077.4" stroke="#505050" stroke-width="3.8" fill="none" stroke-linecap="round"/>
<path d="M324.0 1076.8Q332.5 1074.8 341.0 1076.8" stroke="#d2d2d2" stroke-width="3.0" fill="none" stroke-linecap="round"/>
</g>
<circle cx="247.5" cy="1073.0" r="1.8" fill="#151515" filter="url(#b3)"/>
<rect x="114.8" y="1059.8" width="239.9" height="30.3" fill="none" stroke="#111" stroke-width="1.4"/>
<rect x="114.80" y="1096.80" width="239.90" height="30.60" fill="#f5f5f5" />
<path d="M121 1112.2H350" stroke="#9a9a9a" stroke-width="6.5" fill="none" filter="url(#b4)" stroke-linecap="round"/>
<g filter="url(#b2)">
<rect x="120.9" y="1107.4" width="24.5" height="9.2" rx="4.6" fill="#080808"/>
<rect x="147.8" y="1108.1" width="28.6" height="8.6" rx="4.3" fill="#080808"/>
<rect x="178.6" y="1108.6" width="26.0" height="8.8" rx="4.4" fill="#080808"/>
<rect x="206.6" y="1107.1" width="30.2" height="9.0" rx="4.5" fill="#080808"/>
<rect x="237.8" y="1108.7" width="25.5" height="8.6" rx="4.3" fill="#080808"/>
<rect x="266.0" y="1108.5" width="25.4" height="6.2" rx="3.1" fill="#080808"/>
<rect x="294.8" y="1107.8" width="25.6" height="8.8" rx="4.4" fill="#080808"/>
<rect x="322.2" y="1107.8" width="28.0" height="9.2" rx="4.6" fill="#080808"/>
</g>
<rect x="114.8" y="1096.8" width="239.9" height="30.6" fill="none" stroke="#111" stroke-width="1.4"/>
</g>
</g>
</svg></body></html>
